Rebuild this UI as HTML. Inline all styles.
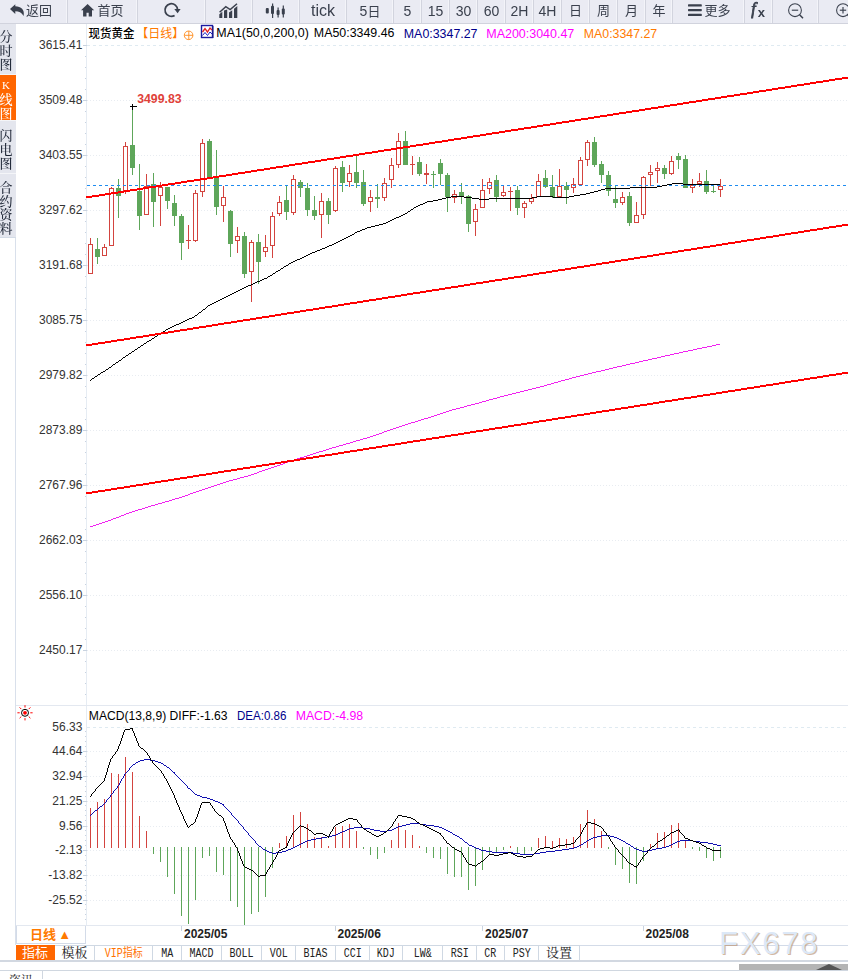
<!DOCTYPE html><html><head><meta charset="utf-8"><title>K</title><style>
html,body{margin:0;padding:0;background:#fff}
body{width:848px;height:979px;position:relative;overflow:hidden;font-family:"Liberation Sans","Noto Sans CJK SC",sans-serif}
#tb{will-change:transform;position:absolute;left:0;top:0;width:848px;height:23px;background:#eaebf3;border-bottom:1px solid #d1d3dd;overflow:hidden}
#tb .b{position:absolute;top:0;height:23px;border-left:1px solid #d2d4de;box-shadow:-1px 0 0 #f3f4f9;color:#3a404d;font-size:13px;line-height:22px;text-align:center;white-space:nowrap}
#tb .b:first-child{border-left:none;box-shadow:none}
#tb .n{font-size:14px}
#tb svg{position:absolute}
#sb{will-change:transform;position:absolute;left:0;top:24px;width:16px}
#sb div{width:16px;background:#e4e6ee;color:#1c2434;font-size:13px;line-height:14px;text-align:center;border-bottom:1px solid #f4f5f8;box-sizing:border-box;overflow:hidden;font-family:"Noto Serif CJK SC","Liberation Serif",serif;font-weight:500}
#sb div.on{background:#ff6600;color:#fff}
#sb span{display:block;width:15px;margin-left:-1.5px}
.tabs{position:absolute;left:16px;top:945px;height:16px;font-size:12px;line-height:17px;font-family:"Liberation Mono","Noto Serif CJK SC",monospace;color:#222}
.tabs div{position:absolute;top:0;height:16px;border:1px solid #cfd8e3;border-left:none;box-sizing:border-box;text-align:center;white-space:nowrap;background:#fff}
.tabs span{display:inline-block;transform:scaleX(.833);transform-origin:center}

</style></head><body>
<svg id="chart" width="848" height="979" viewBox="0 0 848 979" style="position:absolute;left:0;top:0">
<g shape-rendering="crispEdges" fill="none">
<line x1="15.5" y1="237" x2="15.5" y2="945" stroke="#d9e0eb"/>
<line x1="0" y1="237.5" x2="16" y2="237.5" stroke="#d3dbe6"/>
<line x1="86.5" y1="24" x2="86.5" y2="925" stroke="#e6ecf3"/>
<line x1="16" y1="705.5" x2="848" y2="705.5" stroke="#e3e8f0"/>
<line x1="16" y1="925.5" x2="848" y2="925.5" stroke="#e3e8f0"/>
<line x1="16" y1="945.5" x2="848" y2="945.5" stroke="#d3dbe8"/>
<line x1="87" y1="45.5" x2="848" y2="45.5" stroke="#dfeaf1" stroke-dasharray="3 3"/>
<line x1="87" y1="100.5" x2="848" y2="100.5" stroke="#e8ecf1" stroke-dasharray="1 2"/>
<line x1="87" y1="155.5" x2="848" y2="155.5" stroke="#e8ecf1" stroke-dasharray="1 2"/>
<line x1="87" y1="210.5" x2="848" y2="210.5" stroke="#e8ecf1" stroke-dasharray="1 2"/>
<line x1="87" y1="265.5" x2="848" y2="265.5" stroke="#e8ecf1" stroke-dasharray="1 2"/>
<line x1="87" y1="320.5" x2="848" y2="320.5" stroke="#e8ecf1" stroke-dasharray="1 2"/>
<line x1="87" y1="375.5" x2="848" y2="375.5" stroke="#e8ecf1" stroke-dasharray="1 2"/>
<line x1="87" y1="430.5" x2="848" y2="430.5" stroke="#e8ecf1" stroke-dasharray="1 2"/>
<line x1="87" y1="485.5" x2="848" y2="485.5" stroke="#e8ecf1" stroke-dasharray="1 2"/>
<line x1="87" y1="540.5" x2="848" y2="540.5" stroke="#e8ecf1" stroke-dasharray="1 2"/>
<line x1="87" y1="595.5" x2="848" y2="595.5" stroke="#e8ecf1" stroke-dasharray="1 2"/>
<line x1="87" y1="650.5" x2="848" y2="650.5" stroke="#e8ecf1" stroke-dasharray="1 2"/>
<line x1="83" y1="45.5" x2="87" y2="45.5" stroke="#c9d3e0"/>
<line x1="85" y1="56.5" x2="86" y2="56.5" stroke="#c8d2e0"/>
<line x1="85" y1="67.5" x2="86" y2="67.5" stroke="#c8d2e0"/>
<line x1="85" y1="78.5" x2="86" y2="78.5" stroke="#c8d2e0"/>
<line x1="85" y1="89.5" x2="86" y2="89.5" stroke="#c8d2e0"/>
<line x1="83" y1="100.5" x2="87" y2="100.5" stroke="#c9d3e0"/>
<line x1="85" y1="111.5" x2="86" y2="111.5" stroke="#c8d2e0"/>
<line x1="85" y1="122.5" x2="86" y2="122.5" stroke="#c8d2e0"/>
<line x1="85" y1="133.5" x2="86" y2="133.5" stroke="#c8d2e0"/>
<line x1="85" y1="144.5" x2="86" y2="144.5" stroke="#c8d2e0"/>
<line x1="83" y1="155.5" x2="87" y2="155.5" stroke="#c9d3e0"/>
<line x1="85" y1="166.5" x2="86" y2="166.5" stroke="#c8d2e0"/>
<line x1="85" y1="177.5" x2="86" y2="177.5" stroke="#c8d2e0"/>
<line x1="85" y1="188.5" x2="86" y2="188.5" stroke="#c8d2e0"/>
<line x1="85" y1="199.5" x2="86" y2="199.5" stroke="#c8d2e0"/>
<line x1="83" y1="210.5" x2="87" y2="210.5" stroke="#c9d3e0"/>
<line x1="85" y1="221.5" x2="86" y2="221.5" stroke="#c8d2e0"/>
<line x1="85" y1="232.5" x2="86" y2="232.5" stroke="#c8d2e0"/>
<line x1="85" y1="243.5" x2="86" y2="243.5" stroke="#c8d2e0"/>
<line x1="85" y1="254.5" x2="86" y2="254.5" stroke="#c8d2e0"/>
<line x1="83" y1="265.5" x2="87" y2="265.5" stroke="#c9d3e0"/>
<line x1="85" y1="276.5" x2="86" y2="276.5" stroke="#c8d2e0"/>
<line x1="85" y1="287.5" x2="86" y2="287.5" stroke="#c8d2e0"/>
<line x1="85" y1="298.5" x2="86" y2="298.5" stroke="#c8d2e0"/>
<line x1="85" y1="309.5" x2="86" y2="309.5" stroke="#c8d2e0"/>
<line x1="83" y1="320.5" x2="87" y2="320.5" stroke="#c9d3e0"/>
<line x1="85" y1="331.5" x2="86" y2="331.5" stroke="#c8d2e0"/>
<line x1="85" y1="342.5" x2="86" y2="342.5" stroke="#c8d2e0"/>
<line x1="85" y1="353.5" x2="86" y2="353.5" stroke="#c8d2e0"/>
<line x1="85" y1="364.5" x2="86" y2="364.5" stroke="#c8d2e0"/>
<line x1="83" y1="375.5" x2="87" y2="375.5" stroke="#c9d3e0"/>
<line x1="85" y1="386.5" x2="86" y2="386.5" stroke="#c8d2e0"/>
<line x1="85" y1="397.5" x2="86" y2="397.5" stroke="#c8d2e0"/>
<line x1="85" y1="408.5" x2="86" y2="408.5" stroke="#c8d2e0"/>
<line x1="85" y1="419.5" x2="86" y2="419.5" stroke="#c8d2e0"/>
<line x1="83" y1="430.5" x2="87" y2="430.5" stroke="#c9d3e0"/>
<line x1="85" y1="441.5" x2="86" y2="441.5" stroke="#c8d2e0"/>
<line x1="85" y1="452.5" x2="86" y2="452.5" stroke="#c8d2e0"/>
<line x1="85" y1="463.5" x2="86" y2="463.5" stroke="#c8d2e0"/>
<line x1="85" y1="474.5" x2="86" y2="474.5" stroke="#c8d2e0"/>
<line x1="83" y1="485.5" x2="87" y2="485.5" stroke="#c9d3e0"/>
<line x1="85" y1="496.5" x2="86" y2="496.5" stroke="#c8d2e0"/>
<line x1="85" y1="507.5" x2="86" y2="507.5" stroke="#c8d2e0"/>
<line x1="85" y1="518.5" x2="86" y2="518.5" stroke="#c8d2e0"/>
<line x1="85" y1="529.5" x2="86" y2="529.5" stroke="#c8d2e0"/>
<line x1="83" y1="540.5" x2="87" y2="540.5" stroke="#c9d3e0"/>
<line x1="85" y1="551.5" x2="86" y2="551.5" stroke="#c8d2e0"/>
<line x1="85" y1="562.5" x2="86" y2="562.5" stroke="#c8d2e0"/>
<line x1="85" y1="573.5" x2="86" y2="573.5" stroke="#c8d2e0"/>
<line x1="85" y1="584.5" x2="86" y2="584.5" stroke="#c8d2e0"/>
<line x1="83" y1="595.5" x2="87" y2="595.5" stroke="#c9d3e0"/>
<line x1="85" y1="606.5" x2="86" y2="606.5" stroke="#c8d2e0"/>
<line x1="85" y1="617.5" x2="86" y2="617.5" stroke="#c8d2e0"/>
<line x1="85" y1="628.5" x2="86" y2="628.5" stroke="#c8d2e0"/>
<line x1="85" y1="639.5" x2="86" y2="639.5" stroke="#c8d2e0"/>
<line x1="83" y1="650.5" x2="87" y2="650.5" stroke="#c9d3e0"/>
<line x1="85" y1="661.5" x2="86" y2="661.5" stroke="#c8d2e0"/>
<line x1="85" y1="672.5" x2="86" y2="672.5" stroke="#c8d2e0"/>
<line x1="85" y1="683.5" x2="86" y2="683.5" stroke="#c8d2e0"/>
<line x1="85" y1="694.5" x2="86" y2="694.5" stroke="#c8d2e0"/>
<line x1="87" y1="727.5" x2="848" y2="727.5" stroke="#dfeaf1" stroke-dasharray="3 3"/>
<line x1="87" y1="751.5" x2="848" y2="751.5" stroke="#e8ecf1" stroke-dasharray="1 2"/>
<line x1="87" y1="776.5" x2="848" y2="776.5" stroke="#e8ecf1" stroke-dasharray="1 2"/>
<line x1="87" y1="801.5" x2="848" y2="801.5" stroke="#e8ecf1" stroke-dasharray="1 2"/>
<line x1="87" y1="826.5" x2="848" y2="826.5" stroke="#e8ecf1" stroke-dasharray="1 2"/>
<line x1="87" y1="850.5" x2="848" y2="850.5" stroke="#e8ecf1" stroke-dasharray="1 2"/>
<line x1="87" y1="875.5" x2="848" y2="875.5" stroke="#e8ecf1" stroke-dasharray="1 2"/>
<line x1="87" y1="900.5" x2="848" y2="900.5" stroke="#e8ecf1" stroke-dasharray="1 2"/>
<line x1="83" y1="751.5" x2="87" y2="751.5" stroke="#c9d3e0"/>
<line x1="83" y1="776.5" x2="87" y2="776.5" stroke="#c9d3e0"/>
<line x1="83" y1="801.5" x2="87" y2="801.5" stroke="#c9d3e0"/>
<line x1="83" y1="826.5" x2="87" y2="826.5" stroke="#c9d3e0"/>
<line x1="83" y1="850.5" x2="87" y2="850.5" stroke="#c9d3e0"/>
<line x1="83" y1="875.5" x2="87" y2="875.5" stroke="#c9d3e0"/>
<line x1="83" y1="900.5" x2="87" y2="900.5" stroke="#c9d3e0"/>
<line x1="85" y1="731.5" x2="86" y2="731.5" stroke="#c8d2e0"/>
<line x1="85" y1="736.5" x2="86" y2="736.5" stroke="#c8d2e0"/>
<line x1="85" y1="741.5" x2="86" y2="741.5" stroke="#c8d2e0"/>
<line x1="85" y1="746.5" x2="86" y2="746.5" stroke="#c8d2e0"/>
<line x1="85" y1="756.5" x2="86" y2="756.5" stroke="#c8d2e0"/>
<line x1="85" y1="761.5" x2="86" y2="761.5" stroke="#c8d2e0"/>
<line x1="85" y1="766.5" x2="86" y2="766.5" stroke="#c8d2e0"/>
<line x1="85" y1="771.5" x2="86" y2="771.5" stroke="#c8d2e0"/>
<line x1="85" y1="781.5" x2="86" y2="781.5" stroke="#c8d2e0"/>
<line x1="85" y1="786.5" x2="86" y2="786.5" stroke="#c8d2e0"/>
<line x1="85" y1="791.5" x2="86" y2="791.5" stroke="#c8d2e0"/>
<line x1="85" y1="796.5" x2="86" y2="796.5" stroke="#c8d2e0"/>
<line x1="85" y1="805.5" x2="86" y2="805.5" stroke="#c8d2e0"/>
<line x1="85" y1="810.5" x2="86" y2="810.5" stroke="#c8d2e0"/>
<line x1="85" y1="815.5" x2="86" y2="815.5" stroke="#c8d2e0"/>
<line x1="85" y1="820.5" x2="86" y2="820.5" stroke="#c8d2e0"/>
<line x1="85" y1="830.5" x2="86" y2="830.5" stroke="#c8d2e0"/>
<line x1="85" y1="835.5" x2="86" y2="835.5" stroke="#c8d2e0"/>
<line x1="85" y1="840.5" x2="86" y2="840.5" stroke="#c8d2e0"/>
<line x1="85" y1="845.5" x2="86" y2="845.5" stroke="#c8d2e0"/>
<line x1="85" y1="855.5" x2="86" y2="855.5" stroke="#c8d2e0"/>
<line x1="85" y1="860.5" x2="86" y2="860.5" stroke="#c8d2e0"/>
<line x1="85" y1="865.5" x2="86" y2="865.5" stroke="#c8d2e0"/>
<line x1="85" y1="870.5" x2="86" y2="870.5" stroke="#c8d2e0"/>
<line x1="85" y1="880.5" x2="86" y2="880.5" stroke="#c8d2e0"/>
<line x1="85" y1="885.5" x2="86" y2="885.5" stroke="#c8d2e0"/>
<line x1="85" y1="890.5" x2="86" y2="890.5" stroke="#c8d2e0"/>
<line x1="85" y1="895.5" x2="86" y2="895.5" stroke="#c8d2e0"/>
<line x1="85" y1="904.5" x2="86" y2="904.5" stroke="#c8d2e0"/>
<line x1="85" y1="909.5" x2="86" y2="909.5" stroke="#c8d2e0"/>
<line x1="85" y1="914.5" x2="86" y2="914.5" stroke="#c8d2e0"/>
<line x1="85" y1="919.5" x2="86" y2="919.5" stroke="#c8d2e0"/>
<line x1="181.5" y1="926" x2="181.5" y2="931" stroke="#c9d3e0"/>
<line x1="335.5" y1="926" x2="335.5" y2="931" stroke="#c9d3e0"/>
<line x1="482.5" y1="926" x2="482.5" y2="931" stroke="#c9d3e0"/>
<line x1="643.5" y1="926" x2="643.5" y2="931" stroke="#c9d3e0"/>
</g>
<g shape-rendering="crispEdges">
<rect x="90" y="238" width="1" height="6" fill="#d3443f"/>
<rect x="88.5" y="244.5" width="4" height="29" fill="#fff" stroke="#d3443f"/>
<rect x="97" y="238" width="1" height="26" fill="#5ea65a"/>
<rect x="95" y="249" width="5" height="8" fill="#5ea65a"/>
<rect x="104" y="244" width="1" height="3" fill="#d3443f"/>
<rect x="102.5" y="247.5" width="4" height="8" fill="#fff" stroke="#d3443f"/>
<rect x="111" y="187" width="1" height="1" fill="#d3443f"/>
<rect x="109.5" y="188.5" width="4" height="57" fill="#fff" stroke="#d3443f"/>
<rect x="118" y="179" width="1" height="39" fill="#5ea65a"/>
<rect x="116" y="188" width="5" height="8" fill="#5ea65a"/>
<rect x="125" y="142" width="1" height="4" fill="#d3443f"/>
<rect x="125" y="191" width="1" height="3" fill="#d3443f"/>
<rect x="123.5" y="146.5" width="4" height="44" fill="#fff" stroke="#d3443f"/>
<rect x="132" y="106" width="1" height="69" fill="#5ea65a"/>
<rect x="130" y="145" width="5" height="23" fill="#5ea65a"/>
<rect x="139" y="164" width="1" height="66" fill="#5ea65a"/>
<rect x="137" y="191" width="5" height="25" fill="#5ea65a"/>
<rect x="146" y="174" width="1" height="12" fill="#d3443f"/>
<rect x="144.5" y="186.5" width="4" height="28" fill="#fff" stroke="#d3443f"/>
<rect x="153" y="173" width="1" height="54" fill="#5ea65a"/>
<rect x="151" y="184" width="5" height="18" fill="#5ea65a"/>
<rect x="160" y="182" width="1" height="5" fill="#d3443f"/>
<rect x="160" y="196" width="1" height="30" fill="#d3443f"/>
<rect x="158.5" y="187.5" width="4" height="8" fill="#fff" stroke="#d3443f"/>
<rect x="167" y="187" width="1" height="22" fill="#5ea65a"/>
<rect x="165" y="187" width="5" height="14" fill="#5ea65a"/>
<rect x="174" y="195" width="1" height="31" fill="#5ea65a"/>
<rect x="172" y="203" width="5" height="13" fill="#5ea65a"/>
<rect x="181" y="214" width="1" height="46" fill="#5ea65a"/>
<rect x="179" y="216" width="5" height="27" fill="#5ea65a"/>
<rect x="188" y="225" width="1" height="15" fill="#d3443f"/>
<rect x="188" y="241" width="1" height="8" fill="#d3443f"/>
<rect x="186" y="240" width="5" height="1" fill="#d3443f"/>
<rect x="195" y="190" width="1" height="3" fill="#d3443f"/>
<rect x="195" y="241" width="1" height="1" fill="#d3443f"/>
<rect x="193.5" y="193.5" width="4" height="47" fill="#fff" stroke="#d3443f"/>
<rect x="202" y="139" width="1" height="4" fill="#d3443f"/>
<rect x="202" y="192" width="1" height="5" fill="#d3443f"/>
<rect x="200.5" y="143.5" width="4" height="48" fill="#fff" stroke="#d3443f"/>
<rect x="209" y="139" width="1" height="39" fill="#5ea65a"/>
<rect x="207" y="141" width="5" height="37" fill="#5ea65a"/>
<rect x="216" y="150" width="1" height="65" fill="#5ea65a"/>
<rect x="214" y="178" width="5" height="29" fill="#5ea65a"/>
<rect x="223" y="186" width="1" height="11" fill="#d3443f"/>
<rect x="223" y="206" width="1" height="16" fill="#d3443f"/>
<rect x="221.5" y="197.5" width="4" height="8" fill="#fff" stroke="#d3443f"/>
<rect x="230" y="210" width="1" height="47" fill="#5ea65a"/>
<rect x="228" y="211" width="5" height="33" fill="#5ea65a"/>
<rect x="237" y="227" width="1" height="9" fill="#d3443f"/>
<rect x="237" y="241" width="1" height="12" fill="#d3443f"/>
<rect x="235.5" y="236.5" width="4" height="4" fill="#fff" stroke="#d3443f"/>
<rect x="244" y="232" width="1" height="46" fill="#5ea65a"/>
<rect x="242" y="236" width="5" height="38" fill="#5ea65a"/>
<rect x="251" y="240" width="1" height="2" fill="#d3443f"/>
<rect x="251" y="272" width="1" height="30" fill="#d3443f"/>
<rect x="249.5" y="242.5" width="4" height="29" fill="#fff" stroke="#d3443f"/>
<rect x="258" y="234" width="1" height="50" fill="#5ea65a"/>
<rect x="256" y="242" width="5" height="20" fill="#5ea65a"/>
<rect x="265" y="235" width="1" height="12" fill="#d3443f"/>
<rect x="265" y="252" width="1" height="5" fill="#d3443f"/>
<rect x="263.5" y="247.5" width="4" height="4" fill="#fff" stroke="#d3443f"/>
<rect x="272" y="212" width="1" height="4" fill="#d3443f"/>
<rect x="272" y="246" width="1" height="12" fill="#d3443f"/>
<rect x="270.5" y="216.5" width="4" height="29" fill="#fff" stroke="#d3443f"/>
<rect x="279" y="196" width="1" height="6" fill="#d3443f"/>
<rect x="279" y="214" width="1" height="2" fill="#d3443f"/>
<rect x="277.5" y="202.5" width="4" height="11" fill="#fff" stroke="#d3443f"/>
<rect x="286" y="186" width="1" height="34" fill="#5ea65a"/>
<rect x="284" y="200" width="5" height="12" fill="#5ea65a"/>
<rect x="293" y="175" width="1" height="4" fill="#d3443f"/>
<rect x="293" y="213" width="1" height="2" fill="#d3443f"/>
<rect x="291.5" y="179.5" width="4" height="33" fill="#fff" stroke="#d3443f"/>
<rect x="300" y="180" width="1" height="17" fill="#5ea65a"/>
<rect x="298" y="182" width="5" height="6" fill="#5ea65a"/>
<rect x="307" y="183" width="1" height="33" fill="#5ea65a"/>
<rect x="305" y="188" width="5" height="22" fill="#5ea65a"/>
<rect x="314" y="196" width="1" height="24" fill="#5ea65a"/>
<rect x="312" y="210" width="5" height="6" fill="#5ea65a"/>
<rect x="321" y="193" width="1" height="8" fill="#d3443f"/>
<rect x="321" y="215" width="1" height="23" fill="#d3443f"/>
<rect x="319.5" y="201.5" width="4" height="13" fill="#fff" stroke="#d3443f"/>
<rect x="328" y="198" width="1" height="26" fill="#5ea65a"/>
<rect x="326" y="201" width="5" height="14" fill="#5ea65a"/>
<rect x="335" y="166" width="1" height="2" fill="#d3443f"/>
<rect x="335" y="211" width="1" height="1" fill="#d3443f"/>
<rect x="333.5" y="168.5" width="4" height="42" fill="#fff" stroke="#d3443f"/>
<rect x="342" y="161" width="1" height="31" fill="#5ea65a"/>
<rect x="340" y="167" width="5" height="16" fill="#5ea65a"/>
<rect x="349" y="165" width="1" height="8" fill="#d3443f"/>
<rect x="349" y="182" width="1" height="5" fill="#d3443f"/>
<rect x="347.5" y="173.5" width="4" height="8" fill="#fff" stroke="#d3443f"/>
<rect x="356" y="156" width="1" height="32" fill="#5ea65a"/>
<rect x="354" y="172" width="5" height="11" fill="#5ea65a"/>
<rect x="363" y="170" width="1" height="36" fill="#5ea65a"/>
<rect x="361" y="182" width="5" height="22" fill="#5ea65a"/>
<rect x="370" y="190" width="1" height="7" fill="#d3443f"/>
<rect x="370" y="202" width="1" height="10" fill="#d3443f"/>
<rect x="368.5" y="197.5" width="4" height="4" fill="#fff" stroke="#d3443f"/>
<rect x="377" y="184" width="1" height="24" fill="#5ea65a"/>
<rect x="375" y="197" width="5" height="2" fill="#5ea65a"/>
<rect x="384" y="178" width="1" height="5" fill="#d3443f"/>
<rect x="384" y="198" width="1" height="3" fill="#d3443f"/>
<rect x="382.5" y="183.5" width="4" height="14" fill="#fff" stroke="#d3443f"/>
<rect x="391" y="158" width="1" height="7" fill="#d3443f"/>
<rect x="391" y="180" width="1" height="8" fill="#d3443f"/>
<rect x="389.5" y="165.5" width="4" height="14" fill="#fff" stroke="#d3443f"/>
<rect x="398" y="133" width="1" height="8" fill="#d3443f"/>
<rect x="398" y="165" width="1" height="3" fill="#d3443f"/>
<rect x="396.5" y="141.5" width="4" height="23" fill="#fff" stroke="#d3443f"/>
<rect x="405" y="131" width="1" height="34" fill="#5ea65a"/>
<rect x="403" y="141" width="5" height="24" fill="#5ea65a"/>
<rect x="412" y="156" width="1" height="8" fill="#d3443f"/>
<rect x="412" y="165" width="1" height="10" fill="#d3443f"/>
<rect x="410" y="164" width="5" height="1" fill="#d3443f"/>
<rect x="419" y="157" width="1" height="19" fill="#5ea65a"/>
<rect x="417" y="162" width="5" height="12" fill="#5ea65a"/>
<rect x="426" y="164" width="1" height="9" fill="#d3443f"/>
<rect x="426" y="175" width="1" height="9" fill="#d3443f"/>
<rect x="424" y="173" width="5" height="2" fill="#d3443f"/>
<rect x="433" y="171" width="1" height="17" fill="#5ea65a"/>
<rect x="431" y="174" width="5" height="1" fill="#5ea65a"/>
<rect x="440" y="159" width="1" height="26" fill="#5ea65a"/>
<rect x="438" y="163" width="5" height="11" fill="#5ea65a"/>
<rect x="447" y="173" width="1" height="39" fill="#5ea65a"/>
<rect x="445" y="175" width="5" height="22" fill="#5ea65a"/>
<rect x="454" y="190" width="1" height="4" fill="#d3443f"/>
<rect x="454" y="198" width="1" height="5" fill="#d3443f"/>
<rect x="452.5" y="194.5" width="4" height="3" fill="#fff" stroke="#d3443f"/>
<rect x="461" y="183" width="1" height="21" fill="#5ea65a"/>
<rect x="459" y="192" width="5" height="5" fill="#5ea65a"/>
<rect x="468" y="195" width="1" height="37" fill="#5ea65a"/>
<rect x="466" y="196" width="5" height="28" fill="#5ea65a"/>
<rect x="475" y="204" width="1" height="5" fill="#d3443f"/>
<rect x="475" y="222" width="1" height="14" fill="#d3443f"/>
<rect x="473.5" y="209.5" width="4" height="12" fill="#fff" stroke="#d3443f"/>
<rect x="482" y="179" width="1" height="11" fill="#d3443f"/>
<rect x="480.5" y="190.5" width="4" height="17" fill="#fff" stroke="#d3443f"/>
<rect x="489" y="178" width="1" height="4" fill="#d3443f"/>
<rect x="489" y="189" width="1" height="5" fill="#d3443f"/>
<rect x="487.5" y="182.5" width="4" height="6" fill="#fff" stroke="#d3443f"/>
<rect x="496" y="175" width="1" height="27" fill="#5ea65a"/>
<rect x="494" y="180" width="5" height="17" fill="#5ea65a"/>
<rect x="503" y="186" width="1" height="6" fill="#d3443f"/>
<rect x="503" y="196" width="1" height="1" fill="#d3443f"/>
<rect x="501.5" y="192.5" width="4" height="3" fill="#fff" stroke="#d3443f"/>
<rect x="510" y="187" width="1" height="4" fill="#d3443f"/>
<rect x="510" y="192" width="1" height="19" fill="#d3443f"/>
<rect x="508" y="191" width="5" height="1" fill="#d3443f"/>
<rect x="517" y="186" width="1" height="29" fill="#5ea65a"/>
<rect x="515" y="190" width="5" height="18" fill="#5ea65a"/>
<rect x="524" y="201" width="1" height="2" fill="#d3443f"/>
<rect x="524" y="208" width="1" height="10" fill="#d3443f"/>
<rect x="522.5" y="203.5" width="4" height="4" fill="#fff" stroke="#d3443f"/>
<rect x="531" y="194" width="1" height="4" fill="#d3443f"/>
<rect x="531" y="202" width="1" height="2" fill="#d3443f"/>
<rect x="529.5" y="198.5" width="4" height="3" fill="#fff" stroke="#d3443f"/>
<rect x="538" y="174" width="1" height="7" fill="#d3443f"/>
<rect x="536.5" y="181.5" width="4" height="15" fill="#fff" stroke="#d3443f"/>
<rect x="545" y="170" width="1" height="18" fill="#5ea65a"/>
<rect x="543" y="178" width="5" height="9" fill="#5ea65a"/>
<rect x="552" y="175" width="1" height="23" fill="#5ea65a"/>
<rect x="550" y="187" width="5" height="10" fill="#5ea65a"/>
<rect x="559" y="169" width="1" height="17" fill="#d3443f"/>
<rect x="559" y="197" width="1" height="1" fill="#d3443f"/>
<rect x="557.5" y="186.5" width="4" height="10" fill="#fff" stroke="#d3443f"/>
<rect x="566" y="182" width="1" height="22" fill="#5ea65a"/>
<rect x="564" y="186" width="5" height="4" fill="#5ea65a"/>
<rect x="573" y="178" width="1" height="6" fill="#d3443f"/>
<rect x="573" y="188" width="1" height="5" fill="#d3443f"/>
<rect x="571.5" y="184.5" width="4" height="3" fill="#fff" stroke="#d3443f"/>
<rect x="580" y="157" width="1" height="3" fill="#d3443f"/>
<rect x="578.5" y="160.5" width="4" height="24" fill="#fff" stroke="#d3443f"/>
<rect x="587" y="140" width="1" height="2" fill="#d3443f"/>
<rect x="587" y="160" width="1" height="6" fill="#d3443f"/>
<rect x="585.5" y="142.5" width="4" height="17" fill="#fff" stroke="#d3443f"/>
<rect x="594" y="137" width="1" height="30" fill="#5ea65a"/>
<rect x="592" y="142" width="5" height="23" fill="#5ea65a"/>
<rect x="601" y="161" width="1" height="22" fill="#5ea65a"/>
<rect x="599" y="164" width="5" height="11" fill="#5ea65a"/>
<rect x="608" y="171" width="1" height="25" fill="#5ea65a"/>
<rect x="606" y="175" width="5" height="16" fill="#5ea65a"/>
<rect x="615" y="186" width="1" height="22" fill="#5ea65a"/>
<rect x="613" y="199" width="5" height="4" fill="#5ea65a"/>
<rect x="622" y="192" width="1" height="5" fill="#d3443f"/>
<rect x="622" y="203" width="1" height="2" fill="#d3443f"/>
<rect x="620.5" y="197.5" width="4" height="5" fill="#fff" stroke="#d3443f"/>
<rect x="629" y="192" width="1" height="34" fill="#5ea65a"/>
<rect x="627" y="196" width="5" height="27" fill="#5ea65a"/>
<rect x="636" y="202" width="1" height="13" fill="#d3443f"/>
<rect x="634.5" y="215.5" width="4" height="7" fill="#fff" stroke="#d3443f"/>
<rect x="643" y="176" width="1" height="1" fill="#d3443f"/>
<rect x="643" y="215" width="1" height="4" fill="#d3443f"/>
<rect x="641.5" y="177.5" width="4" height="37" fill="#fff" stroke="#d3443f"/>
<rect x="650" y="165" width="1" height="7" fill="#d3443f"/>
<rect x="650" y="175" width="1" height="11" fill="#d3443f"/>
<rect x="648.5" y="172.5" width="4" height="2" fill="#fff" stroke="#d3443f"/>
<rect x="657" y="162" width="1" height="6" fill="#d3443f"/>
<rect x="657" y="171" width="1" height="12" fill="#d3443f"/>
<rect x="655.5" y="168.5" width="4" height="2" fill="#fff" stroke="#d3443f"/>
<rect x="664" y="165" width="1" height="14" fill="#5ea65a"/>
<rect x="662" y="168" width="5" height="6" fill="#5ea65a"/>
<rect x="671" y="156" width="1" height="5" fill="#d3443f"/>
<rect x="671" y="174" width="1" height="1" fill="#d3443f"/>
<rect x="669.5" y="161.5" width="4" height="12" fill="#fff" stroke="#d3443f"/>
<rect x="678" y="153" width="1" height="16" fill="#5ea65a"/>
<rect x="676" y="156" width="5" height="4" fill="#5ea65a"/>
<rect x="685" y="155" width="1" height="33" fill="#5ea65a"/>
<rect x="683" y="159" width="5" height="29" fill="#5ea65a"/>
<rect x="692" y="179" width="1" height="6" fill="#d3443f"/>
<rect x="692" y="188" width="1" height="5" fill="#d3443f"/>
<rect x="690.5" y="185.5" width="4" height="2" fill="#fff" stroke="#d3443f"/>
<rect x="699" y="173" width="1" height="8" fill="#d3443f"/>
<rect x="699" y="184" width="1" height="3" fill="#d3443f"/>
<rect x="697.5" y="181.5" width="4" height="2" fill="#fff" stroke="#d3443f"/>
<rect x="706" y="170" width="1" height="24" fill="#5ea65a"/>
<rect x="704" y="181" width="5" height="11" fill="#5ea65a"/>
<rect x="713" y="186" width="1" height="7" fill="#5ea65a"/>
<rect x="711" y="191" width="5" height="1" fill="#5ea65a"/>
<rect x="720" y="179" width="1" height="7" fill="#d3443f"/>
<rect x="720" y="190" width="1" height="7" fill="#d3443f"/>
<rect x="718.5" y="186.5" width="4" height="3" fill="#fff" stroke="#d3443f"/>
</g>
<line x1="87" y1="185.5" x2="848" y2="185.5" stroke="#1e8cf0" stroke-dasharray="3 3" shape-rendering="crispEdges"/>
<path d="M90 380h1v1h-1zM91 379h1v1h-1zM92 378h1v1h-1zM93 378h1v1h-1zM94 377h1v1h-1zM95 376h1v1h-1zM96 376h1v1h-1zM97 375h1v1h-1zM98 374h1v1h-1zM99 374h1v1h-1zM100 373h1v1h-1zM101 372h1v1h-1zM102 372h1v1h-1zM103 371h1v1h-1zM104 371h1v1h-1zM105 370h1v1h-1zM106 369h1v1h-1zM107 369h1v1h-1zM108 368h1v1h-1zM109 367h1v1h-1zM110 367h1v1h-1zM111 366h1v1h-1zM112 365h1v1h-1zM113 364h1v1h-1zM114 364h1v1h-1zM115 363h1v1h-1zM116 362h1v1h-1zM117 362h1v1h-1zM118 361h1v1h-1zM119 360h1v1h-1zM120 360h1v1h-1zM121 359h1v1h-1zM122 358h1v1h-1zM123 357h1v1h-1zM124 357h1v1h-1zM125 356h1v1h-1zM126 355h1v1h-1zM127 355h1v1h-1zM128 354h1v1h-1zM129 353h1v1h-1zM130 353h1v1h-1zM131 352h1v1h-1zM132 351h1v1h-1zM133 351h1v1h-1zM134 350h1v1h-1zM135 349h1v1h-1zM136 349h1v1h-1zM137 348h1v1h-1zM138 347h1v1h-1zM139 347h1v1h-1zM140 346h1v1h-1zM141 345h1v1h-1zM142 345h1v1h-1zM143 344h1v1h-1zM144 343h1v1h-1zM145 343h1v1h-1zM146 342h1v1h-1zM147 341h1v1h-1zM148 341h1v1h-1zM149 340h1v1h-1zM150 340h1v1h-1zM151 339h1v1h-1zM152 338h1v1h-1zM153 338h1v1h-1zM154 337h1v1h-1zM155 336h1v1h-1zM156 336h1v1h-1zM157 335h1v1h-1zM158 334h1v1h-1zM159 334h1v1h-1zM160 333h1v1h-1zM161 332h1v1h-1zM162 332h1v1h-1zM163 331h1v1h-1zM164 331h1v1h-1zM165 330h1v1h-1zM166 329h1v1h-1zM167 329h1v1h-1zM168 328h1v1h-1zM169 328h1v1h-1zM170 327h1v1h-1zM171 327h1v1h-1zM172 326h1v1h-1zM173 326h1v1h-1zM174 325h1v1h-1zM175 325h1v1h-1zM176 324h1v1h-1zM177 324h1v1h-1zM178 324h1v1h-1zM179 323h1v1h-1zM180 323h1v1h-1zM181 322h1v1h-1zM182 322h1v1h-1zM183 321h1v1h-1zM184 321h1v1h-1zM185 320h1v1h-1zM186 320h1v1h-1zM187 319h1v1h-1zM188 319h1v1h-1zM189 318h1v1h-1zM190 318h1v1h-1zM191 318h1v1h-1zM192 317h1v1h-1zM193 317h1v1h-1zM194 316h1v1h-1zM195 315h1v1h-1zM196 315h1v1h-1zM197 314h1v1h-1zM198 313h1v1h-1zM199 312h1v1h-1zM200 312h1v1h-1zM201 311h1v1h-1zM202 310h1v1h-1zM203 309h1v1h-1zM204 309h1v1h-1zM205 308h1v1h-1zM206 307h1v1h-1zM207 306h1v1h-1zM208 305h1v1h-1zM209 305h1v1h-1zM210 304h1v1h-1zM211 304h1v1h-1zM212 303h1v1h-1zM213 303h1v1h-1zM214 302h1v1h-1zM215 302h1v1h-1zM216 301h1v1h-1zM217 301h1v1h-1zM218 300h1v1h-1zM219 300h1v1h-1zM220 299h1v1h-1zM221 299h1v1h-1zM222 298h1v1h-1zM223 298h1v1h-1zM224 297h1v1h-1zM225 297h1v1h-1zM226 296h1v1h-1zM227 296h1v1h-1zM228 295h1v1h-1zM229 295h1v1h-1zM230 294h1v1h-1zM231 294h1v1h-1zM232 293h1v1h-1zM233 293h1v1h-1zM234 292h1v1h-1zM235 292h1v1h-1zM236 291h1v1h-1zM237 291h1v1h-1zM238 290h1v1h-1zM239 290h1v1h-1zM240 289h1v1h-1zM241 289h1v1h-1zM242 288h1v1h-1zM243 288h1v1h-1zM244 287h1v1h-1zM245 287h1v1h-1zM246 286h1v1h-1zM247 286h1v1h-1zM248 285h1v1h-1zM249 285h1v1h-1zM250 285h1v1h-1zM251 284h1v1h-1zM252 284h1v1h-1zM253 283h1v1h-1zM254 283h1v1h-1zM255 282h1v1h-1zM256 282h1v1h-1zM257 281h1v1h-1zM258 281h1v1h-1zM259 281h1v1h-1zM260 280h1v1h-1zM261 280h1v1h-1zM262 279h1v1h-1zM263 279h1v1h-1zM264 278h1v1h-1zM265 278h1v1h-1zM266 278h1v1h-1zM267 277h1v1h-1zM268 276h1v1h-1zM269 276h1v1h-1zM270 275h1v1h-1zM271 275h1v1h-1zM272 274h1v1h-1zM273 273h1v1h-1zM274 273h1v1h-1zM275 272h1v1h-1zM276 271h1v1h-1zM277 271h1v1h-1zM278 270h1v1h-1zM279 270h1v1h-1zM280 269h1v1h-1zM281 268h1v1h-1zM282 268h1v1h-1zM283 267h1v1h-1zM284 266h1v1h-1zM285 266h1v1h-1zM286 265h1v1h-1zM287 265h1v1h-1zM288 264h1v1h-1zM289 263h1v1h-1zM290 263h1v1h-1zM291 262h1v1h-1zM292 262h1v1h-1zM293 261h1v1h-1zM294 261h1v1h-1zM295 260h1v1h-1zM296 260h1v1h-1zM297 259h1v1h-1zM298 259h1v1h-1zM299 259h1v1h-1zM300 258h1v1h-1zM301 258h1v1h-1zM302 257h1v1h-1zM303 257h1v1h-1zM304 256h1v1h-1zM305 256h1v1h-1zM306 255h1v1h-1zM307 255h1v1h-1zM308 254h1v1h-1zM309 254h1v1h-1zM310 253h1v1h-1zM311 253h1v1h-1zM312 252h1v1h-1zM313 252h1v1h-1zM314 252h1v1h-1zM315 251h1v1h-1zM316 251h1v1h-1zM317 250h1v1h-1zM318 250h1v1h-1zM319 250h1v1h-1zM320 249h1v1h-1zM321 249h1v1h-1zM322 248h1v1h-1zM323 248h1v1h-1zM324 248h1v1h-1zM325 247h1v1h-1zM326 247h1v1h-1zM327 246h1v1h-1zM328 246h1v1h-1zM329 245h1v1h-1zM330 245h1v1h-1zM331 245h1v1h-1zM332 244h1v1h-1zM333 244h1v1h-1zM334 243h1v1h-1zM335 243h1v1h-1zM336 242h1v1h-1zM337 242h1v1h-1zM338 241h1v1h-1zM339 241h1v1h-1zM340 240h1v1h-1zM341 240h1v1h-1zM342 239h1v1h-1zM343 239h1v1h-1zM344 238h1v1h-1zM345 238h1v1h-1zM346 237h1v1h-1zM347 237h1v1h-1zM348 236h1v1h-1zM349 236h1v1h-1zM350 235h1v1h-1zM351 235h1v1h-1zM352 234h1v1h-1zM353 234h1v1h-1zM354 233h1v1h-1zM355 232h1v1h-1zM356 232h1v1h-1zM357 231h1v1h-1zM358 231h1v1h-1zM359 231h1v1h-1zM360 230h1v1h-1zM361 230h1v1h-1zM362 229h1v1h-1zM363 229h1v1h-1zM364 229h1v1h-1zM365 228h1v1h-1zM366 228h1v1h-1zM367 227h1v1h-1zM368 227h1v1h-1zM369 227h1v1h-1zM370 227h1v1h-1zM371 226h1v1h-1zM372 226h1v1h-1zM373 226h1v1h-1zM374 226h1v1h-1zM375 225h1v1h-1zM376 225h1v1h-1zM377 225h1v1h-1zM378 225h1v1h-1zM379 224h1v1h-1zM380 224h1v1h-1zM381 224h1v1h-1zM382 224h1v1h-1zM383 223h1v1h-1zM384 223h1v1h-1zM385 223h1v1h-1zM386 222h1v1h-1zM387 222h1v1h-1zM388 221h1v1h-1zM389 221h1v1h-1zM390 220h1v1h-1zM391 220h1v1h-1zM392 219h1v1h-1zM393 219h1v1h-1zM394 218h1v1h-1zM395 218h1v1h-1zM396 217h1v1h-1zM397 217h1v1h-1zM398 217h1v1h-1zM399 216h1v1h-1zM400 216h1v1h-1zM401 215h1v1h-1zM402 215h1v1h-1zM403 214h1v1h-1zM404 214h1v1h-1zM405 213h1v1h-1zM406 213h1v1h-1zM407 212h1v1h-1zM408 211h1v1h-1zM409 211h1v1h-1zM410 210h1v1h-1zM411 209h1v1h-1zM412 209h1v1h-1zM413 208h1v1h-1zM414 207h1v1h-1zM415 207h1v1h-1zM416 206h1v1h-1zM417 206h1v1h-1zM418 205h1v1h-1zM419 205h1v1h-1zM420 204h1v1h-1zM421 204h1v1h-1zM422 204h1v1h-1zM423 203h1v1h-1zM424 203h1v1h-1zM425 202h1v1h-1zM426 202h1v1h-1zM427 201h1v1h-1zM428 201h1v1h-1zM429 201h1v1h-1zM430 201h1v1h-1zM431 201h1v1h-1zM432 201h1v1h-1zM433 200h1v1h-1zM434 200h1v1h-1zM435 200h1v1h-1zM436 200h1v1h-1zM437 200h1v1h-1zM438 199h1v1h-1zM439 199h1v1h-1zM440 199h1v1h-1zM441 199h1v1h-1zM442 198h1v1h-1zM443 198h1v1h-1zM444 198h1v1h-1zM445 198h1v1h-1zM446 197h1v1h-1zM447 197h1v1h-1zM448 197h1v1h-1zM449 197h1v1h-1zM450 197h1v1h-1zM451 196h1v1h-1zM452 196h1v1h-1zM453 196h1v1h-1zM454 196h1v1h-1zM455 196h1v1h-1zM456 196h1v1h-1zM457 196h1v1h-1zM458 196h1v1h-1zM459 196h1v1h-1zM460 196h1v1h-1zM461 196h1v1h-1zM462 196h1v1h-1zM463 196h1v1h-1zM464 197h1v1h-1zM465 197h1v1h-1zM466 197h1v1h-1zM467 197h1v1h-1zM468 197h1v1h-1zM469 197h1v1h-1zM470 197h1v1h-1zM471 197h1v1h-1zM472 198h1v1h-1zM473 198h1v1h-1zM474 198h1v1h-1zM475 198h1v1h-1zM476 198h1v1h-1zM477 198h1v1h-1zM478 198h1v1h-1zM479 199h1v1h-1zM480 199h1v1h-1zM481 199h1v1h-1zM482 199h1v1h-1zM483 199h1v1h-1zM484 199h1v1h-1zM485 199h1v1h-1zM486 199h1v1h-1zM487 199h1v1h-1zM488 199h1v1h-1zM489 198h1v1h-1zM490 198h1v1h-1zM491 198h1v1h-1zM492 198h1v1h-1zM493 198h1v1h-1zM494 198h1v1h-1zM495 198h1v1h-1zM496 198h1v1h-1zM497 198h1v1h-1zM498 198h1v1h-1zM499 198h1v1h-1zM500 198h1v1h-1zM501 198h1v1h-1zM502 198h1v1h-1zM503 198h1v1h-1zM504 198h1v1h-1zM505 198h1v1h-1zM506 198h1v1h-1zM507 198h1v1h-1zM508 198h1v1h-1zM509 198h1v1h-1zM510 198h1v1h-1zM511 198h1v1h-1zM512 198h1v1h-1zM513 198h1v1h-1zM514 198h1v1h-1zM515 198h1v1h-1zM516 198h1v1h-1zM517 198h1v1h-1zM518 198h1v1h-1zM519 198h1v1h-1zM520 198h1v1h-1zM521 198h1v1h-1zM522 198h1v1h-1zM523 198h1v1h-1zM524 198h1v1h-1zM525 198h1v1h-1zM526 198h1v1h-1zM527 198h1v1h-1zM528 198h1v1h-1zM529 198h1v1h-1zM530 198h1v1h-1zM531 198h1v1h-1zM532 197h1v1h-1zM533 197h1v1h-1zM534 197h1v1h-1zM535 197h1v1h-1zM536 197h1v1h-1zM537 196h1v1h-1zM538 196h1v1h-1zM539 196h1v1h-1zM540 196h1v1h-1zM541 196h1v1h-1zM542 196h1v1h-1zM543 196h1v1h-1zM544 196h1v1h-1zM545 196h1v1h-1zM546 196h1v1h-1zM547 196h1v1h-1zM548 196h1v1h-1zM549 196h1v1h-1zM550 196h1v1h-1zM551 196h1v1h-1zM552 196h1v1h-1zM553 197h1v1h-1zM554 197h1v1h-1zM555 197h1v1h-1zM556 197h1v1h-1zM557 197h1v1h-1zM558 197h1v1h-1zM559 197h1v1h-1zM560 197h1v1h-1zM561 197h1v1h-1zM562 197h1v1h-1zM563 197h1v1h-1zM564 197h1v1h-1zM565 197h1v1h-1zM566 197h1v1h-1zM567 197h1v1h-1zM568 197h1v1h-1zM569 196h1v1h-1zM570 196h1v1h-1zM571 196h1v1h-1zM572 196h1v1h-1zM573 196h1v1h-1zM574 195h1v1h-1zM575 195h1v1h-1zM576 195h1v1h-1zM577 195h1v1h-1zM578 195h1v1h-1zM579 195h1v1h-1zM580 194h1v1h-1zM581 194h1v1h-1zM582 194h1v1h-1zM583 194h1v1h-1zM584 194h1v1h-1zM585 194h1v1h-1zM586 193h1v1h-1zM587 193h1v1h-1zM588 193h1v1h-1zM589 193h1v1h-1zM590 192h1v1h-1zM591 192h1v1h-1zM592 192h1v1h-1zM593 192h1v1h-1zM594 191h1v1h-1zM595 191h1v1h-1zM596 191h1v1h-1zM597 191h1v1h-1zM598 190h1v1h-1zM599 190h1v1h-1zM600 190h1v1h-1zM601 189h1v1h-1zM602 189h1v1h-1zM603 189h1v1h-1zM604 189h1v1h-1zM605 188h1v1h-1zM606 188h1v1h-1zM607 188h1v1h-1zM608 188h1v1h-1zM609 188h1v1h-1zM610 188h1v1h-1zM611 188h1v1h-1zM612 188h1v1h-1zM613 188h1v1h-1zM614 188h1v1h-1zM615 188h1v1h-1zM616 188h1v1h-1zM617 188h1v1h-1zM618 188h1v1h-1zM619 188h1v1h-1zM620 188h1v1h-1zM621 188h1v1h-1zM622 188h1v1h-1zM623 188h1v1h-1zM624 188h1v1h-1zM625 188h1v1h-1zM626 188h1v1h-1zM627 188h1v1h-1zM628 188h1v1h-1zM629 188h1v1h-1zM630 187h1v1h-1zM631 187h1v1h-1zM632 187h1v1h-1zM633 187h1v1h-1zM634 187h1v1h-1zM635 187h1v1h-1zM636 187h1v1h-1zM637 187h1v1h-1zM638 187h1v1h-1zM639 187h1v1h-1zM640 187h1v1h-1zM641 187h1v1h-1zM642 187h1v1h-1zM643 187h1v1h-1zM644 187h1v1h-1zM645 187h1v1h-1zM646 187h1v1h-1zM647 187h1v1h-1zM648 187h1v1h-1zM649 187h1v1h-1zM650 187h1v1h-1zM651 187h1v1h-1zM652 187h1v1h-1zM653 187h1v1h-1zM654 187h1v1h-1zM655 187h1v1h-1zM656 187h1v1h-1zM657 186h1v1h-1zM658 186h1v1h-1zM659 186h1v1h-1zM660 186h1v1h-1zM661 186h1v1h-1zM662 185h1v1h-1zM663 185h1v1h-1zM664 185h1v1h-1zM665 185h1v1h-1zM666 185h1v1h-1zM667 184h1v1h-1zM668 184h1v1h-1zM669 184h1v1h-1zM670 184h1v1h-1zM671 184h1v1h-1zM672 183h1v1h-1zM673 183h1v1h-1zM674 183h1v1h-1zM675 183h1v1h-1zM676 183h1v1h-1zM677 183h1v1h-1zM678 183h1v1h-1zM679 183h1v1h-1zM680 183h1v1h-1zM681 183h1v1h-1zM682 183h1v1h-1zM683 184h1v1h-1zM684 184h1v1h-1zM685 184h1v1h-1zM686 184h1v1h-1zM687 184h1v1h-1zM688 184h1v1h-1zM689 184h1v1h-1zM690 184h1v1h-1zM691 184h1v1h-1zM692 184h1v1h-1zM693 184h1v1h-1zM694 184h1v1h-1zM695 184h1v1h-1zM696 184h1v1h-1zM697 184h1v1h-1zM698 184h1v1h-1zM699 184h1v1h-1zM700 184h1v1h-1zM701 184h1v1h-1zM702 184h1v1h-1zM703 184h1v1h-1zM704 184h1v1h-1zM705 184h1v1h-1zM706 184h1v1h-1zM707 184h1v1h-1zM708 184h1v1h-1zM709 184h1v1h-1zM710 184h1v1h-1zM711 184h1v1h-1zM712 184h1v1h-1zM713 184h1v1h-1zM714 184h1v1h-1zM715 184h1v1h-1zM716 184h1v1h-1zM717 184h1v1h-1zM718 184h1v1h-1zM719 184h1v1h-1z" fill="#000" shape-rendering="crispEdges"/>
<path d="M90 526h1v1h-1zM91 526h1v1h-1zM92 526h1v1h-1zM93 525h1v1h-1zM94 525h1v1h-1zM95 525h1v1h-1zM96 524h1v1h-1zM97 524h1v1h-1zM98 524h1v1h-1zM99 523h1v1h-1zM100 523h1v1h-1zM101 523h1v1h-1zM102 522h1v1h-1zM103 522h1v1h-1zM104 522h1v1h-1zM105 521h1v1h-1zM106 521h1v1h-1zM107 521h1v1h-1zM108 520h1v1h-1zM109 520h1v1h-1zM110 520h1v1h-1zM111 519h1v1h-1zM112 519h1v1h-1zM113 518h1v1h-1zM114 518h1v1h-1zM115 518h1v1h-1zM116 517h1v1h-1zM117 517h1v1h-1zM118 517h1v1h-1zM119 516h1v1h-1zM120 516h1v1h-1zM121 515h1v1h-1zM122 515h1v1h-1zM123 515h1v1h-1zM124 514h1v1h-1zM125 514h1v1h-1zM126 513h1v1h-1zM127 513h1v1h-1zM128 513h1v1h-1zM129 512h1v1h-1zM130 512h1v1h-1zM131 512h1v1h-1zM132 511h1v1h-1zM133 511h1v1h-1zM134 511h1v1h-1zM135 510h1v1h-1zM136 510h1v1h-1zM137 510h1v1h-1zM138 509h1v1h-1zM139 509h1v1h-1zM140 509h1v1h-1zM141 509h1v1h-1zM142 508h1v1h-1zM143 508h1v1h-1zM144 508h1v1h-1zM145 507h1v1h-1zM146 507h1v1h-1zM147 507h1v1h-1zM148 506h1v1h-1zM149 506h1v1h-1zM150 506h1v1h-1zM151 505h1v1h-1zM152 505h1v1h-1zM153 505h1v1h-1zM154 505h1v1h-1zM155 504h1v1h-1zM156 504h1v1h-1zM157 504h1v1h-1zM158 503h1v1h-1zM159 503h1v1h-1zM160 503h1v1h-1zM161 503h1v1h-1zM162 502h1v1h-1zM163 502h1v1h-1zM164 502h1v1h-1zM165 501h1v1h-1zM166 501h1v1h-1zM167 501h1v1h-1zM168 501h1v1h-1zM169 500h1v1h-1zM170 500h1v1h-1zM171 500h1v1h-1zM172 499h1v1h-1zM173 499h1v1h-1zM174 499h1v1h-1zM175 498h1v1h-1zM176 498h1v1h-1zM177 498h1v1h-1zM178 498h1v1h-1zM179 497h1v1h-1zM180 497h1v1h-1zM181 497h1v1h-1zM182 496h1v1h-1zM183 496h1v1h-1zM184 496h1v1h-1zM185 495h1v1h-1zM186 495h1v1h-1zM187 495h1v1h-1zM188 494h1v1h-1zM189 494h1v1h-1zM190 493h1v1h-1zM191 493h1v1h-1zM192 493h1v1h-1zM193 492h1v1h-1zM194 492h1v1h-1zM195 492h1v1h-1zM196 491h1v1h-1zM197 491h1v1h-1zM198 491h1v1h-1zM199 490h1v1h-1zM200 490h1v1h-1zM201 490h1v1h-1zM202 489h1v1h-1zM203 489h1v1h-1zM204 489h1v1h-1zM205 488h1v1h-1zM206 488h1v1h-1zM207 488h1v1h-1zM208 487h1v1h-1zM209 487h1v1h-1zM210 487h1v1h-1zM211 486h1v1h-1zM212 486h1v1h-1zM213 486h1v1h-1zM214 485h1v1h-1zM215 485h1v1h-1zM216 485h1v1h-1zM217 484h1v1h-1zM218 484h1v1h-1zM219 484h1v1h-1zM220 483h1v1h-1zM221 483h1v1h-1zM222 483h1v1h-1zM223 482h1v1h-1zM224 482h1v1h-1zM225 482h1v1h-1zM226 481h1v1h-1zM227 481h1v1h-1zM228 481h1v1h-1zM229 480h1v1h-1zM230 480h1v1h-1zM231 480h1v1h-1zM232 480h1v1h-1zM233 479h1v1h-1zM234 479h1v1h-1zM235 479h1v1h-1zM236 479h1v1h-1zM237 478h1v1h-1zM238 478h1v1h-1zM239 478h1v1h-1zM240 477h1v1h-1zM241 477h1v1h-1zM242 477h1v1h-1zM243 477h1v1h-1zM244 476h1v1h-1zM245 476h1v1h-1zM246 476h1v1h-1zM247 476h1v1h-1zM248 475h1v1h-1zM249 475h1v1h-1zM250 475h1v1h-1zM251 474h1v1h-1zM252 474h1v1h-1zM253 474h1v1h-1zM254 473h1v1h-1zM255 473h1v1h-1zM256 473h1v1h-1zM257 472h1v1h-1zM258 472h1v1h-1zM259 471h1v1h-1zM260 471h1v1h-1zM261 471h1v1h-1zM262 470h1v1h-1zM263 470h1v1h-1zM264 470h1v1h-1zM265 469h1v1h-1zM266 469h1v1h-1zM267 469h1v1h-1zM268 468h1v1h-1zM269 468h1v1h-1zM270 468h1v1h-1zM271 467h1v1h-1zM272 467h1v1h-1zM273 467h1v1h-1zM274 466h1v1h-1zM275 466h1v1h-1zM276 466h1v1h-1zM277 465h1v1h-1zM278 465h1v1h-1zM279 465h1v1h-1zM280 464h1v1h-1zM281 464h1v1h-1zM282 464h1v1h-1zM283 463h1v1h-1zM284 463h1v1h-1zM285 462h1v1h-1zM286 462h1v1h-1zM287 462h1v1h-1zM288 461h1v1h-1zM289 461h1v1h-1zM290 461h1v1h-1zM291 460h1v1h-1zM292 460h1v1h-1zM293 460h1v1h-1zM294 459h1v1h-1zM295 459h1v1h-1zM296 459h1v1h-1zM297 458h1v1h-1zM298 458h1v1h-1zM299 458h1v1h-1zM300 457h1v1h-1zM301 457h1v1h-1zM302 457h1v1h-1zM303 457h1v1h-1zM304 456h1v1h-1zM305 456h1v1h-1zM306 456h1v1h-1zM307 455h1v1h-1zM308 455h1v1h-1zM309 455h1v1h-1zM310 454h1v1h-1zM311 454h1v1h-1zM312 454h1v1h-1zM313 453h1v1h-1zM314 453h1v1h-1zM315 453h1v1h-1zM316 452h1v1h-1zM317 452h1v1h-1zM318 452h1v1h-1zM319 451h1v1h-1zM320 451h1v1h-1zM321 451h1v1h-1zM322 451h1v1h-1zM323 450h1v1h-1zM324 450h1v1h-1zM325 450h1v1h-1zM326 449h1v1h-1zM327 449h1v1h-1zM328 449h1v1h-1zM329 448h1v1h-1zM330 448h1v1h-1zM331 448h1v1h-1zM332 447h1v1h-1zM333 447h1v1h-1zM334 447h1v1h-1zM335 447h1v1h-1zM336 446h1v1h-1zM337 446h1v1h-1zM338 446h1v1h-1zM339 445h1v1h-1zM340 445h1v1h-1zM341 445h1v1h-1zM342 445h1v1h-1zM343 444h1v1h-1zM344 444h1v1h-1zM345 444h1v1h-1zM346 443h1v1h-1zM347 443h1v1h-1zM348 443h1v1h-1zM349 443h1v1h-1zM350 442h1v1h-1zM351 442h1v1h-1zM352 442h1v1h-1zM353 441h1v1h-1zM354 441h1v1h-1zM355 441h1v1h-1zM356 440h1v1h-1zM357 440h1v1h-1zM358 440h1v1h-1zM359 440h1v1h-1zM360 439h1v1h-1zM361 439h1v1h-1zM362 439h1v1h-1zM363 438h1v1h-1zM364 438h1v1h-1zM365 438h1v1h-1zM366 438h1v1h-1zM367 437h1v1h-1zM368 437h1v1h-1zM369 437h1v1h-1zM370 436h1v1h-1zM371 436h1v1h-1zM372 436h1v1h-1zM373 435h1v1h-1zM374 435h1v1h-1zM375 435h1v1h-1zM376 434h1v1h-1zM377 434h1v1h-1zM378 434h1v1h-1zM379 433h1v1h-1zM380 433h1v1h-1zM381 433h1v1h-1zM382 432h1v1h-1zM383 432h1v1h-1zM384 431h1v1h-1zM385 431h1v1h-1zM386 431h1v1h-1zM387 430h1v1h-1zM388 430h1v1h-1zM389 430h1v1h-1zM390 429h1v1h-1zM391 429h1v1h-1zM392 429h1v1h-1zM393 428h1v1h-1zM394 428h1v1h-1zM395 428h1v1h-1zM396 427h1v1h-1zM397 427h1v1h-1zM398 427h1v1h-1zM399 426h1v1h-1zM400 426h1v1h-1zM401 426h1v1h-1zM402 425h1v1h-1zM403 425h1v1h-1zM404 425h1v1h-1zM405 424h1v1h-1zM406 424h1v1h-1zM407 424h1v1h-1zM408 423h1v1h-1zM409 423h1v1h-1zM410 423h1v1h-1zM411 422h1v1h-1zM412 422h1v1h-1zM413 422h1v1h-1zM414 422h1v1h-1zM415 421h1v1h-1zM416 421h1v1h-1zM417 421h1v1h-1zM418 420h1v1h-1zM419 420h1v1h-1zM420 420h1v1h-1zM421 419h1v1h-1zM422 419h1v1h-1zM423 419h1v1h-1zM424 418h1v1h-1zM425 418h1v1h-1zM426 418h1v1h-1zM427 418h1v1h-1zM428 417h1v1h-1zM429 417h1v1h-1zM430 417h1v1h-1zM431 416h1v1h-1zM432 416h1v1h-1zM433 416h1v1h-1zM434 415h1v1h-1zM435 415h1v1h-1zM436 415h1v1h-1zM437 414h1v1h-1zM438 414h1v1h-1zM439 414h1v1h-1zM440 413h1v1h-1zM441 413h1v1h-1zM442 413h1v1h-1zM443 412h1v1h-1zM444 412h1v1h-1zM445 412h1v1h-1zM446 411h1v1h-1zM447 411h1v1h-1zM448 411h1v1h-1zM449 410h1v1h-1zM450 410h1v1h-1zM451 410h1v1h-1zM452 409h1v1h-1zM453 409h1v1h-1zM454 409h1v1h-1zM455 409h1v1h-1zM456 408h1v1h-1zM457 408h1v1h-1zM458 408h1v1h-1zM459 408h1v1h-1zM460 407h1v1h-1zM461 407h1v1h-1zM462 407h1v1h-1zM463 407h1v1h-1zM464 406h1v1h-1zM465 406h1v1h-1zM466 406h1v1h-1zM467 405h1v1h-1zM468 405h1v1h-1zM469 405h1v1h-1zM470 405h1v1h-1zM471 404h1v1h-1zM472 404h1v1h-1zM473 404h1v1h-1zM474 404h1v1h-1zM475 403h1v1h-1zM476 403h1v1h-1zM477 403h1v1h-1zM478 403h1v1h-1zM479 402h1v1h-1zM480 402h1v1h-1zM481 402h1v1h-1zM482 401h1v1h-1zM483 401h1v1h-1zM484 401h1v1h-1zM485 401h1v1h-1zM486 400h1v1h-1zM487 400h1v1h-1zM488 400h1v1h-1zM489 399h1v1h-1zM490 399h1v1h-1zM491 399h1v1h-1zM492 399h1v1h-1zM493 398h1v1h-1zM494 398h1v1h-1zM495 398h1v1h-1zM496 398h1v1h-1zM497 397h1v1h-1zM498 397h1v1h-1zM499 397h1v1h-1zM500 396h1v1h-1zM501 396h1v1h-1zM502 396h1v1h-1zM503 396h1v1h-1zM504 395h1v1h-1zM505 395h1v1h-1zM506 395h1v1h-1zM507 395h1v1h-1zM508 394h1v1h-1zM509 394h1v1h-1zM510 394h1v1h-1zM511 394h1v1h-1zM512 393h1v1h-1zM513 393h1v1h-1zM514 393h1v1h-1zM515 393h1v1h-1zM516 392h1v1h-1zM517 392h1v1h-1zM518 392h1v1h-1zM519 392h1v1h-1zM520 391h1v1h-1zM521 391h1v1h-1zM522 391h1v1h-1zM523 391h1v1h-1zM524 390h1v1h-1zM525 390h1v1h-1zM526 390h1v1h-1zM527 390h1v1h-1zM528 389h1v1h-1zM529 389h1v1h-1zM530 389h1v1h-1zM531 389h1v1h-1zM532 388h1v1h-1zM533 388h1v1h-1zM534 388h1v1h-1zM535 388h1v1h-1zM536 387h1v1h-1zM537 387h1v1h-1zM538 387h1v1h-1zM539 387h1v1h-1zM540 386h1v1h-1zM541 386h1v1h-1zM542 386h1v1h-1zM543 386h1v1h-1zM544 385h1v1h-1zM545 385h1v1h-1zM546 385h1v1h-1zM547 384h1v1h-1zM548 384h1v1h-1zM549 384h1v1h-1zM550 384h1v1h-1zM551 383h1v1h-1zM552 383h1v1h-1zM553 383h1v1h-1zM554 382h1v1h-1zM555 382h1v1h-1zM556 382h1v1h-1zM557 382h1v1h-1zM558 381h1v1h-1zM559 381h1v1h-1zM560 381h1v1h-1zM561 380h1v1h-1zM562 380h1v1h-1zM563 380h1v1h-1zM564 380h1v1h-1zM565 379h1v1h-1zM566 379h1v1h-1zM567 379h1v1h-1zM568 379h1v1h-1zM569 378h1v1h-1zM570 378h1v1h-1zM571 378h1v1h-1zM572 377h1v1h-1zM573 377h1v1h-1zM574 377h1v1h-1zM575 377h1v1h-1zM576 376h1v1h-1zM577 376h1v1h-1zM578 376h1v1h-1zM579 376h1v1h-1zM580 375h1v1h-1zM581 375h1v1h-1zM582 375h1v1h-1zM583 375h1v1h-1zM584 374h1v1h-1zM585 374h1v1h-1zM586 374h1v1h-1zM587 374h1v1h-1zM588 373h1v1h-1zM589 373h1v1h-1zM590 373h1v1h-1zM591 373h1v1h-1zM592 372h1v1h-1zM593 372h1v1h-1zM594 372h1v1h-1zM595 372h1v1h-1zM596 371h1v1h-1zM597 371h1v1h-1zM598 371h1v1h-1zM599 371h1v1h-1zM600 371h1v1h-1zM601 370h1v1h-1zM602 370h1v1h-1zM603 370h1v1h-1zM604 370h1v1h-1zM605 369h1v1h-1zM606 369h1v1h-1zM607 369h1v1h-1zM608 369h1v1h-1zM609 368h1v1h-1zM610 368h1v1h-1zM611 368h1v1h-1zM612 368h1v1h-1zM613 367h1v1h-1zM614 367h1v1h-1zM615 367h1v1h-1zM616 367h1v1h-1zM617 366h1v1h-1zM618 366h1v1h-1zM619 366h1v1h-1zM620 366h1v1h-1zM621 366h1v1h-1zM622 365h1v1h-1zM623 365h1v1h-1zM624 365h1v1h-1zM625 365h1v1h-1zM626 364h1v1h-1zM627 364h1v1h-1zM628 364h1v1h-1zM629 364h1v1h-1zM630 363h1v1h-1zM631 363h1v1h-1zM632 363h1v1h-1zM633 363h1v1h-1zM634 363h1v1h-1zM635 362h1v1h-1zM636 362h1v1h-1zM637 362h1v1h-1zM638 362h1v1h-1zM639 361h1v1h-1zM640 361h1v1h-1zM641 361h1v1h-1zM642 361h1v1h-1zM643 360h1v1h-1zM644 360h1v1h-1zM645 360h1v1h-1zM646 360h1v1h-1zM647 360h1v1h-1zM648 359h1v1h-1zM649 359h1v1h-1zM650 359h1v1h-1zM651 359h1v1h-1zM652 358h1v1h-1zM653 358h1v1h-1zM654 358h1v1h-1zM655 358h1v1h-1zM656 358h1v1h-1zM657 357h1v1h-1zM658 357h1v1h-1zM659 357h1v1h-1zM660 357h1v1h-1zM661 356h1v1h-1zM662 356h1v1h-1zM663 356h1v1h-1zM664 356h1v1h-1zM665 355h1v1h-1zM666 355h1v1h-1zM667 355h1v1h-1zM668 355h1v1h-1zM669 355h1v1h-1zM670 354h1v1h-1zM671 354h1v1h-1zM672 354h1v1h-1zM673 354h1v1h-1zM674 353h1v1h-1zM675 353h1v1h-1zM676 353h1v1h-1zM677 353h1v1h-1zM678 353h1v1h-1zM679 352h1v1h-1zM680 352h1v1h-1zM681 352h1v1h-1zM682 352h1v1h-1zM683 351h1v1h-1zM684 351h1v1h-1zM685 351h1v1h-1zM686 351h1v1h-1zM687 351h1v1h-1zM688 350h1v1h-1zM689 350h1v1h-1zM690 350h1v1h-1zM691 350h1v1h-1zM692 350h1v1h-1zM693 349h1v1h-1zM694 349h1v1h-1zM695 349h1v1h-1zM696 349h1v1h-1zM697 348h1v1h-1zM698 348h1v1h-1zM699 348h1v1h-1zM700 348h1v1h-1zM701 348h1v1h-1zM702 347h1v1h-1zM703 347h1v1h-1zM704 347h1v1h-1zM705 347h1v1h-1zM706 347h1v1h-1zM707 346h1v1h-1zM708 346h1v1h-1zM709 346h1v1h-1zM710 346h1v1h-1zM711 346h1v1h-1zM712 345h1v1h-1zM713 345h1v1h-1zM714 345h1v1h-1zM715 345h1v1h-1zM716 344h1v1h-1zM717 344h1v1h-1zM718 344h1v1h-1zM719 344h1v1h-1z" fill="#f020f0" shape-rendering="crispEdges"/>
<path d="M86 196h1v2h-1zM87 196h1v2h-1zM88 196h1v2h-1zM89 196h1v2h-1zM90 196h1v2h-1zM91 196h1v2h-1zM92 195h1v2h-1zM93 195h1v2h-1zM94 195h1v2h-1zM95 195h1v2h-1zM96 195h1v2h-1zM97 195h1v2h-1zM98 195h1v2h-1zM99 194h1v2h-1zM100 194h1v2h-1zM101 194h1v2h-1zM102 194h1v2h-1zM103 194h1v2h-1zM104 194h1v2h-1zM105 193h1v2h-1zM106 193h1v2h-1zM107 193h1v2h-1zM108 193h1v2h-1zM109 193h1v2h-1zM110 193h1v2h-1zM111 192h1v2h-1zM112 192h1v2h-1zM113 192h1v2h-1zM114 192h1v2h-1zM115 192h1v2h-1zM116 192h1v2h-1zM117 192h1v2h-1zM118 191h1v2h-1zM119 191h1v2h-1zM120 191h1v2h-1zM121 191h1v2h-1zM122 191h1v2h-1zM123 191h1v2h-1zM124 190h1v2h-1zM125 190h1v2h-1zM126 190h1v2h-1zM127 190h1v2h-1zM128 190h1v2h-1zM129 190h1v2h-1zM130 189h1v2h-1zM131 189h1v2h-1zM132 189h1v2h-1zM133 189h1v2h-1zM134 189h1v2h-1zM135 189h1v2h-1zM136 189h1v2h-1zM137 188h1v2h-1zM138 188h1v2h-1zM139 188h1v2h-1zM140 188h1v2h-1zM141 188h1v2h-1zM142 188h1v2h-1zM143 187h1v2h-1zM144 187h1v2h-1zM145 187h1v2h-1zM146 187h1v2h-1zM147 187h1v2h-1zM148 187h1v2h-1zM149 186h1v2h-1zM150 186h1v2h-1zM151 186h1v2h-1zM152 186h1v2h-1zM153 186h1v2h-1zM154 186h1v2h-1zM155 186h1v2h-1zM156 185h1v2h-1zM157 185h1v2h-1zM158 185h1v2h-1zM159 185h1v2h-1zM160 185h1v2h-1zM161 185h1v2h-1zM162 184h1v2h-1zM163 184h1v2h-1zM164 184h1v2h-1zM165 184h1v2h-1zM166 184h1v2h-1zM167 184h1v2h-1zM168 183h1v2h-1zM169 183h1v2h-1zM170 183h1v2h-1zM171 183h1v2h-1zM172 183h1v2h-1zM173 183h1v2h-1zM174 183h1v2h-1zM175 182h1v2h-1zM176 182h1v2h-1zM177 182h1v2h-1zM178 182h1v2h-1zM179 182h1v2h-1zM180 182h1v2h-1zM181 181h1v2h-1zM182 181h1v2h-1zM183 181h1v2h-1zM184 181h1v2h-1zM185 181h1v2h-1zM186 181h1v2h-1zM187 180h1v2h-1zM188 180h1v2h-1zM189 180h1v2h-1zM190 180h1v2h-1zM191 180h1v2h-1zM192 180h1v2h-1zM193 180h1v2h-1zM194 179h1v2h-1zM195 179h1v2h-1zM196 179h1v2h-1zM197 179h1v2h-1zM198 179h1v2h-1zM199 179h1v2h-1zM200 178h1v2h-1zM201 178h1v2h-1zM202 178h1v2h-1zM203 178h1v2h-1zM204 178h1v2h-1zM205 178h1v2h-1zM206 178h1v2h-1zM207 177h1v2h-1zM208 177h1v2h-1zM209 177h1v2h-1zM210 177h1v2h-1zM211 177h1v2h-1zM212 177h1v2h-1zM213 176h1v2h-1zM214 176h1v2h-1zM215 176h1v2h-1zM216 176h1v2h-1zM217 176h1v2h-1zM218 176h1v2h-1zM219 175h1v2h-1zM220 175h1v2h-1zM221 175h1v2h-1zM222 175h1v2h-1zM223 175h1v2h-1zM224 175h1v2h-1zM225 175h1v2h-1zM226 174h1v2h-1zM227 174h1v2h-1zM228 174h1v2h-1zM229 174h1v2h-1zM230 174h1v2h-1zM231 174h1v2h-1zM232 173h1v2h-1zM233 173h1v2h-1zM234 173h1v2h-1zM235 173h1v2h-1zM236 173h1v2h-1zM237 173h1v2h-1zM238 172h1v2h-1zM239 172h1v2h-1zM240 172h1v2h-1zM241 172h1v2h-1zM242 172h1v2h-1zM243 172h1v2h-1zM244 172h1v2h-1zM245 171h1v2h-1zM246 171h1v2h-1zM247 171h1v2h-1zM248 171h1v2h-1zM249 171h1v2h-1zM250 171h1v2h-1zM251 170h1v2h-1zM252 170h1v2h-1zM253 170h1v2h-1zM254 170h1v2h-1zM255 170h1v2h-1zM256 170h1v2h-1zM257 169h1v2h-1zM258 169h1v2h-1zM259 169h1v2h-1zM260 169h1v2h-1zM261 169h1v2h-1zM262 169h1v2h-1zM263 169h1v2h-1zM264 168h1v2h-1zM265 168h1v2h-1zM266 168h1v2h-1zM267 168h1v2h-1zM268 168h1v2h-1zM269 168h1v2h-1zM270 167h1v2h-1zM271 167h1v2h-1zM272 167h1v2h-1zM273 167h1v2h-1zM274 167h1v2h-1zM275 167h1v2h-1zM276 166h1v2h-1zM277 166h1v2h-1zM278 166h1v2h-1zM279 166h1v2h-1zM280 166h1v2h-1zM281 166h1v2h-1zM282 166h1v2h-1zM283 165h1v2h-1zM284 165h1v2h-1zM285 165h1v2h-1zM286 165h1v2h-1zM287 165h1v2h-1zM288 165h1v2h-1zM289 164h1v2h-1zM290 164h1v2h-1zM291 164h1v2h-1zM292 164h1v2h-1zM293 164h1v2h-1zM294 164h1v2h-1zM295 163h1v2h-1zM296 163h1v2h-1zM297 163h1v2h-1zM298 163h1v2h-1zM299 163h1v2h-1zM300 163h1v2h-1zM301 163h1v2h-1zM302 162h1v2h-1zM303 162h1v2h-1zM304 162h1v2h-1zM305 162h1v2h-1zM306 162h1v2h-1zM307 162h1v2h-1zM308 161h1v2h-1zM309 161h1v2h-1zM310 161h1v2h-1zM311 161h1v2h-1zM312 161h1v2h-1zM313 161h1v2h-1zM314 161h1v2h-1zM315 160h1v2h-1zM316 160h1v2h-1zM317 160h1v2h-1zM318 160h1v2h-1zM319 160h1v2h-1zM320 160h1v2h-1zM321 159h1v2h-1zM322 159h1v2h-1zM323 159h1v2h-1zM324 159h1v2h-1zM325 159h1v2h-1zM326 159h1v2h-1zM327 158h1v2h-1zM328 158h1v2h-1zM329 158h1v2h-1zM330 158h1v2h-1zM331 158h1v2h-1zM332 158h1v2h-1zM333 158h1v2h-1zM334 157h1v2h-1zM335 157h1v2h-1zM336 157h1v2h-1zM337 157h1v2h-1zM338 157h1v2h-1zM339 157h1v2h-1zM340 156h1v2h-1zM341 156h1v2h-1zM342 156h1v2h-1zM343 156h1v2h-1zM344 156h1v2h-1zM345 156h1v2h-1zM346 155h1v2h-1zM347 155h1v2h-1zM348 155h1v2h-1zM349 155h1v2h-1zM350 155h1v2h-1zM351 155h1v2h-1zM352 155h1v2h-1zM353 154h1v2h-1zM354 154h1v2h-1zM355 154h1v2h-1zM356 154h1v2h-1zM357 154h1v2h-1zM358 154h1v2h-1zM359 153h1v2h-1zM360 153h1v2h-1zM361 153h1v2h-1zM362 153h1v2h-1zM363 153h1v2h-1zM364 153h1v2h-1zM365 152h1v2h-1zM366 152h1v2h-1zM367 152h1v2h-1zM368 152h1v2h-1zM369 152h1v2h-1zM370 152h1v2h-1zM371 152h1v2h-1zM372 151h1v2h-1zM373 151h1v2h-1zM374 151h1v2h-1zM375 151h1v2h-1zM376 151h1v2h-1zM377 151h1v2h-1zM378 150h1v2h-1zM379 150h1v2h-1zM380 150h1v2h-1zM381 150h1v2h-1zM382 150h1v2h-1zM383 150h1v2h-1zM384 149h1v2h-1zM385 149h1v2h-1zM386 149h1v2h-1zM387 149h1v2h-1zM388 149h1v2h-1zM389 149h1v2h-1zM390 149h1v2h-1zM391 148h1v2h-1zM392 148h1v2h-1zM393 148h1v2h-1zM394 148h1v2h-1zM395 148h1v2h-1zM396 148h1v2h-1zM397 147h1v2h-1zM398 147h1v2h-1zM399 147h1v2h-1zM400 147h1v2h-1zM401 147h1v2h-1zM402 147h1v2h-1zM403 146h1v2h-1zM404 146h1v2h-1zM405 146h1v2h-1zM406 146h1v2h-1zM407 146h1v2h-1zM408 146h1v2h-1zM409 146h1v2h-1zM410 145h1v2h-1zM411 145h1v2h-1zM412 145h1v2h-1zM413 145h1v2h-1zM414 145h1v2h-1zM415 145h1v2h-1zM416 144h1v2h-1zM417 144h1v2h-1zM418 144h1v2h-1zM419 144h1v2h-1zM420 144h1v2h-1zM421 144h1v2h-1zM422 144h1v2h-1zM423 143h1v2h-1zM424 143h1v2h-1zM425 143h1v2h-1zM426 143h1v2h-1zM427 143h1v2h-1zM428 143h1v2h-1zM429 142h1v2h-1zM430 142h1v2h-1zM431 142h1v2h-1zM432 142h1v2h-1zM433 142h1v2h-1zM434 142h1v2h-1zM435 141h1v2h-1zM436 141h1v2h-1zM437 141h1v2h-1zM438 141h1v2h-1zM439 141h1v2h-1zM440 141h1v2h-1zM441 141h1v2h-1zM442 140h1v2h-1zM443 140h1v2h-1zM444 140h1v2h-1zM445 140h1v2h-1zM446 140h1v2h-1zM447 140h1v2h-1zM448 139h1v2h-1zM449 139h1v2h-1zM450 139h1v2h-1zM451 139h1v2h-1zM452 139h1v2h-1zM453 139h1v2h-1zM454 138h1v2h-1zM455 138h1v2h-1zM456 138h1v2h-1zM457 138h1v2h-1zM458 138h1v2h-1zM459 138h1v2h-1zM460 138h1v2h-1zM461 137h1v2h-1zM462 137h1v2h-1zM463 137h1v2h-1zM464 137h1v2h-1zM465 137h1v2h-1zM466 137h1v2h-1zM467 136h1v2h-1zM468 136h1v2h-1zM469 136h1v2h-1zM470 136h1v2h-1zM471 136h1v2h-1zM472 136h1v2h-1zM473 135h1v2h-1zM474 135h1v2h-1zM475 135h1v2h-1zM476 135h1v2h-1zM477 135h1v2h-1zM478 135h1v2h-1zM479 135h1v2h-1zM480 134h1v2h-1zM481 134h1v2h-1zM482 134h1v2h-1zM483 134h1v2h-1zM484 134h1v2h-1zM485 134h1v2h-1zM486 133h1v2h-1zM487 133h1v2h-1zM488 133h1v2h-1zM489 133h1v2h-1zM490 133h1v2h-1zM491 133h1v2h-1zM492 132h1v2h-1zM493 132h1v2h-1zM494 132h1v2h-1zM495 132h1v2h-1zM496 132h1v2h-1zM497 132h1v2h-1zM498 132h1v2h-1zM499 131h1v2h-1zM500 131h1v2h-1zM501 131h1v2h-1zM502 131h1v2h-1zM503 131h1v2h-1zM504 131h1v2h-1zM505 130h1v2h-1zM506 130h1v2h-1zM507 130h1v2h-1zM508 130h1v2h-1zM509 130h1v2h-1zM510 130h1v2h-1zM511 129h1v2h-1zM512 129h1v2h-1zM513 129h1v2h-1zM514 129h1v2h-1zM515 129h1v2h-1zM516 129h1v2h-1zM517 129h1v2h-1zM518 128h1v2h-1zM519 128h1v2h-1zM520 128h1v2h-1zM521 128h1v2h-1zM522 128h1v2h-1zM523 128h1v2h-1zM524 127h1v2h-1zM525 127h1v2h-1zM526 127h1v2h-1zM527 127h1v2h-1zM528 127h1v2h-1zM529 127h1v2h-1zM530 127h1v2h-1zM531 126h1v2h-1zM532 126h1v2h-1zM533 126h1v2h-1zM534 126h1v2h-1zM535 126h1v2h-1zM536 126h1v2h-1zM537 125h1v2h-1zM538 125h1v2h-1zM539 125h1v2h-1zM540 125h1v2h-1zM541 125h1v2h-1zM542 125h1v2h-1zM543 124h1v2h-1zM544 124h1v2h-1zM545 124h1v2h-1zM546 124h1v2h-1zM547 124h1v2h-1zM548 124h1v2h-1zM549 124h1v2h-1zM550 123h1v2h-1zM551 123h1v2h-1zM552 123h1v2h-1zM553 123h1v2h-1zM554 123h1v2h-1zM555 123h1v2h-1zM556 122h1v2h-1zM557 122h1v2h-1zM558 122h1v2h-1zM559 122h1v2h-1zM560 122h1v2h-1zM561 122h1v2h-1zM562 121h1v2h-1zM563 121h1v2h-1zM564 121h1v2h-1zM565 121h1v2h-1zM566 121h1v2h-1zM567 121h1v2h-1zM568 121h1v2h-1zM569 120h1v2h-1zM570 120h1v2h-1zM571 120h1v2h-1zM572 120h1v2h-1zM573 120h1v2h-1zM574 120h1v2h-1zM575 119h1v2h-1zM576 119h1v2h-1zM577 119h1v2h-1zM578 119h1v2h-1zM579 119h1v2h-1zM580 119h1v2h-1zM581 118h1v2h-1zM582 118h1v2h-1zM583 118h1v2h-1zM584 118h1v2h-1zM585 118h1v2h-1zM586 118h1v2h-1zM587 118h1v2h-1zM588 117h1v2h-1zM589 117h1v2h-1zM590 117h1v2h-1zM591 117h1v2h-1zM592 117h1v2h-1zM593 117h1v2h-1zM594 116h1v2h-1zM595 116h1v2h-1zM596 116h1v2h-1zM597 116h1v2h-1zM598 116h1v2h-1zM599 116h1v2h-1zM600 115h1v2h-1zM601 115h1v2h-1zM602 115h1v2h-1zM603 115h1v2h-1zM604 115h1v2h-1zM605 115h1v2h-1zM606 115h1v2h-1zM607 114h1v2h-1zM608 114h1v2h-1zM609 114h1v2h-1zM610 114h1v2h-1zM611 114h1v2h-1zM612 114h1v2h-1zM613 113h1v2h-1zM614 113h1v2h-1zM615 113h1v2h-1zM616 113h1v2h-1zM617 113h1v2h-1zM618 113h1v2h-1zM619 112h1v2h-1zM620 112h1v2h-1zM621 112h1v2h-1zM622 112h1v2h-1zM623 112h1v2h-1zM624 112h1v2h-1zM625 112h1v2h-1zM626 111h1v2h-1zM627 111h1v2h-1zM628 111h1v2h-1zM629 111h1v2h-1zM630 111h1v2h-1zM631 111h1v2h-1zM632 110h1v2h-1zM633 110h1v2h-1zM634 110h1v2h-1zM635 110h1v2h-1zM636 110h1v2h-1zM637 110h1v2h-1zM638 110h1v2h-1zM639 109h1v2h-1zM640 109h1v2h-1zM641 109h1v2h-1zM642 109h1v2h-1zM643 109h1v2h-1zM644 109h1v2h-1zM645 108h1v2h-1zM646 108h1v2h-1zM647 108h1v2h-1zM648 108h1v2h-1zM649 108h1v2h-1zM650 108h1v2h-1zM651 107h1v2h-1zM652 107h1v2h-1zM653 107h1v2h-1zM654 107h1v2h-1zM655 107h1v2h-1zM656 107h1v2h-1zM657 107h1v2h-1zM658 106h1v2h-1zM659 106h1v2h-1zM660 106h1v2h-1zM661 106h1v2h-1zM662 106h1v2h-1zM663 106h1v2h-1zM664 105h1v2h-1zM665 105h1v2h-1zM666 105h1v2h-1zM667 105h1v2h-1zM668 105h1v2h-1zM669 105h1v2h-1zM670 104h1v2h-1zM671 104h1v2h-1zM672 104h1v2h-1zM673 104h1v2h-1zM674 104h1v2h-1zM675 104h1v2h-1zM676 104h1v2h-1zM677 103h1v2h-1zM678 103h1v2h-1zM679 103h1v2h-1zM680 103h1v2h-1zM681 103h1v2h-1zM682 103h1v2h-1zM683 102h1v2h-1zM684 102h1v2h-1zM685 102h1v2h-1zM686 102h1v2h-1zM687 102h1v2h-1zM688 102h1v2h-1zM689 101h1v2h-1zM690 101h1v2h-1zM691 101h1v2h-1zM692 101h1v2h-1zM693 101h1v2h-1zM694 101h1v2h-1zM695 101h1v2h-1zM696 100h1v2h-1zM697 100h1v2h-1zM698 100h1v2h-1zM699 100h1v2h-1zM700 100h1v2h-1zM701 100h1v2h-1zM702 99h1v2h-1zM703 99h1v2h-1zM704 99h1v2h-1zM705 99h1v2h-1zM706 99h1v2h-1zM707 99h1v2h-1zM708 98h1v2h-1zM709 98h1v2h-1zM710 98h1v2h-1zM711 98h1v2h-1zM712 98h1v2h-1zM713 98h1v2h-1zM714 98h1v2h-1zM715 97h1v2h-1zM716 97h1v2h-1zM717 97h1v2h-1zM718 97h1v2h-1zM719 97h1v2h-1zM720 97h1v2h-1zM721 96h1v2h-1zM722 96h1v2h-1zM723 96h1v2h-1zM724 96h1v2h-1zM725 96h1v2h-1zM726 96h1v2h-1zM727 95h1v2h-1zM728 95h1v2h-1zM729 95h1v2h-1zM730 95h1v2h-1zM731 95h1v2h-1zM732 95h1v2h-1zM733 95h1v2h-1zM734 94h1v2h-1zM735 94h1v2h-1zM736 94h1v2h-1zM737 94h1v2h-1zM738 94h1v2h-1zM739 94h1v2h-1zM740 93h1v2h-1zM741 93h1v2h-1zM742 93h1v2h-1zM743 93h1v2h-1zM744 93h1v2h-1zM745 93h1v2h-1zM746 93h1v2h-1zM747 92h1v2h-1zM748 92h1v2h-1zM749 92h1v2h-1zM750 92h1v2h-1zM751 92h1v2h-1zM752 92h1v2h-1zM753 91h1v2h-1zM754 91h1v2h-1zM755 91h1v2h-1zM756 91h1v2h-1zM757 91h1v2h-1zM758 91h1v2h-1zM759 90h1v2h-1zM760 90h1v2h-1zM761 90h1v2h-1zM762 90h1v2h-1zM763 90h1v2h-1zM764 90h1v2h-1zM765 90h1v2h-1zM766 89h1v2h-1zM767 89h1v2h-1zM768 89h1v2h-1zM769 89h1v2h-1zM770 89h1v2h-1zM771 89h1v2h-1zM772 88h1v2h-1zM773 88h1v2h-1zM774 88h1v2h-1zM775 88h1v2h-1zM776 88h1v2h-1zM777 88h1v2h-1zM778 87h1v2h-1zM779 87h1v2h-1zM780 87h1v2h-1zM781 87h1v2h-1zM782 87h1v2h-1zM783 87h1v2h-1zM784 87h1v2h-1zM785 86h1v2h-1zM786 86h1v2h-1zM787 86h1v2h-1zM788 86h1v2h-1zM789 86h1v2h-1zM790 86h1v2h-1zM791 85h1v2h-1zM792 85h1v2h-1zM793 85h1v2h-1zM794 85h1v2h-1zM795 85h1v2h-1zM796 85h1v2h-1zM797 84h1v2h-1zM798 84h1v2h-1zM799 84h1v2h-1zM800 84h1v2h-1zM801 84h1v2h-1zM802 84h1v2h-1zM803 84h1v2h-1zM804 83h1v2h-1zM805 83h1v2h-1zM806 83h1v2h-1zM807 83h1v2h-1zM808 83h1v2h-1zM809 83h1v2h-1zM810 82h1v2h-1zM811 82h1v2h-1zM812 82h1v2h-1zM813 82h1v2h-1zM814 82h1v2h-1zM815 82h1v2h-1zM816 81h1v2h-1zM817 81h1v2h-1zM818 81h1v2h-1zM819 81h1v2h-1zM820 81h1v2h-1zM821 81h1v2h-1zM822 81h1v2h-1zM823 80h1v2h-1zM824 80h1v2h-1zM825 80h1v2h-1zM826 80h1v2h-1zM827 80h1v2h-1zM828 80h1v2h-1zM829 79h1v2h-1zM830 79h1v2h-1zM831 79h1v2h-1zM832 79h1v2h-1zM833 79h1v2h-1zM834 79h1v2h-1zM835 78h1v2h-1zM836 78h1v2h-1zM837 78h1v2h-1zM838 78h1v2h-1zM839 78h1v2h-1zM840 78h1v2h-1zM841 78h1v2h-1zM842 77h1v2h-1zM843 77h1v2h-1zM844 77h1v2h-1zM845 77h1v2h-1zM846 77h1v2h-1zM847 77h1v2h-1z" fill="#ff0000" shape-rendering="crispEdges"/>
<path d="M86 344h1v2h-1zM87 344h1v2h-1zM88 344h1v2h-1zM89 344h1v2h-1zM90 344h1v2h-1zM91 344h1v2h-1zM92 343h1v2h-1zM93 343h1v2h-1zM94 343h1v2h-1zM95 343h1v2h-1zM96 343h1v2h-1zM97 343h1v2h-1zM98 342h1v2h-1zM99 342h1v2h-1zM100 342h1v2h-1zM101 342h1v2h-1zM102 342h1v2h-1zM103 342h1v2h-1zM104 342h1v2h-1zM105 341h1v2h-1zM106 341h1v2h-1zM107 341h1v2h-1zM108 341h1v2h-1zM109 341h1v2h-1zM110 341h1v2h-1zM111 340h1v2h-1zM112 340h1v2h-1zM113 340h1v2h-1zM114 340h1v2h-1zM115 340h1v2h-1zM116 340h1v2h-1zM117 339h1v2h-1zM118 339h1v2h-1zM119 339h1v2h-1zM120 339h1v2h-1zM121 339h1v2h-1zM122 339h1v2h-1zM123 339h1v2h-1zM124 338h1v2h-1zM125 338h1v2h-1zM126 338h1v2h-1zM127 338h1v2h-1zM128 338h1v2h-1zM129 338h1v2h-1zM130 337h1v2h-1zM131 337h1v2h-1zM132 337h1v2h-1zM133 337h1v2h-1zM134 337h1v2h-1zM135 337h1v2h-1zM136 336h1v2h-1zM137 336h1v2h-1zM138 336h1v2h-1zM139 336h1v2h-1zM140 336h1v2h-1zM141 336h1v2h-1zM142 336h1v2h-1zM143 335h1v2h-1zM144 335h1v2h-1zM145 335h1v2h-1zM146 335h1v2h-1zM147 335h1v2h-1zM148 335h1v2h-1zM149 334h1v2h-1zM150 334h1v2h-1zM151 334h1v2h-1zM152 334h1v2h-1zM153 334h1v2h-1zM154 334h1v2h-1zM155 333h1v2h-1zM156 333h1v2h-1zM157 333h1v2h-1zM158 333h1v2h-1zM159 333h1v2h-1zM160 333h1v2h-1zM161 332h1v2h-1zM162 332h1v2h-1zM163 332h1v2h-1zM164 332h1v2h-1zM165 332h1v2h-1zM166 332h1v2h-1zM167 332h1v2h-1zM168 331h1v2h-1zM169 331h1v2h-1zM170 331h1v2h-1zM171 331h1v2h-1zM172 331h1v2h-1zM173 331h1v2h-1zM174 330h1v2h-1zM175 330h1v2h-1zM176 330h1v2h-1zM177 330h1v2h-1zM178 330h1v2h-1zM179 330h1v2h-1zM180 329h1v2h-1zM181 329h1v2h-1zM182 329h1v2h-1zM183 329h1v2h-1zM184 329h1v2h-1zM185 329h1v2h-1zM186 329h1v2h-1zM187 328h1v2h-1zM188 328h1v2h-1zM189 328h1v2h-1zM190 328h1v2h-1zM191 328h1v2h-1zM192 328h1v2h-1zM193 327h1v2h-1zM194 327h1v2h-1zM195 327h1v2h-1zM196 327h1v2h-1zM197 327h1v2h-1zM198 327h1v2h-1zM199 326h1v2h-1zM200 326h1v2h-1zM201 326h1v2h-1zM202 326h1v2h-1zM203 326h1v2h-1zM204 326h1v2h-1zM205 326h1v2h-1zM206 325h1v2h-1zM207 325h1v2h-1zM208 325h1v2h-1zM209 325h1v2h-1zM210 325h1v2h-1zM211 325h1v2h-1zM212 324h1v2h-1zM213 324h1v2h-1zM214 324h1v2h-1zM215 324h1v2h-1zM216 324h1v2h-1zM217 324h1v2h-1zM218 323h1v2h-1zM219 323h1v2h-1zM220 323h1v2h-1zM221 323h1v2h-1zM222 323h1v2h-1zM223 323h1v2h-1zM224 322h1v2h-1zM225 322h1v2h-1zM226 322h1v2h-1zM227 322h1v2h-1zM228 322h1v2h-1zM229 322h1v2h-1zM230 322h1v2h-1zM231 321h1v2h-1zM232 321h1v2h-1zM233 321h1v2h-1zM234 321h1v2h-1zM235 321h1v2h-1zM236 321h1v2h-1zM237 320h1v2h-1zM238 320h1v2h-1zM239 320h1v2h-1zM240 320h1v2h-1zM241 320h1v2h-1zM242 320h1v2h-1zM243 319h1v2h-1zM244 319h1v2h-1zM245 319h1v2h-1zM246 319h1v2h-1zM247 319h1v2h-1zM248 319h1v2h-1zM249 319h1v2h-1zM250 318h1v2h-1zM251 318h1v2h-1zM252 318h1v2h-1zM253 318h1v2h-1zM254 318h1v2h-1zM255 318h1v2h-1zM256 317h1v2h-1zM257 317h1v2h-1zM258 317h1v2h-1zM259 317h1v2h-1zM260 317h1v2h-1zM261 317h1v2h-1zM262 316h1v2h-1zM263 316h1v2h-1zM264 316h1v2h-1zM265 316h1v2h-1zM266 316h1v2h-1zM267 316h1v2h-1zM268 316h1v2h-1zM269 315h1v2h-1zM270 315h1v2h-1zM271 315h1v2h-1zM272 315h1v2h-1zM273 315h1v2h-1zM274 315h1v2h-1zM275 314h1v2h-1zM276 314h1v2h-1zM277 314h1v2h-1zM278 314h1v2h-1zM279 314h1v2h-1zM280 314h1v2h-1zM281 313h1v2h-1zM282 313h1v2h-1zM283 313h1v2h-1zM284 313h1v2h-1zM285 313h1v2h-1zM286 313h1v2h-1zM287 312h1v2h-1zM288 312h1v2h-1zM289 312h1v2h-1zM290 312h1v2h-1zM291 312h1v2h-1zM292 312h1v2h-1zM293 312h1v2h-1zM294 311h1v2h-1zM295 311h1v2h-1zM296 311h1v2h-1zM297 311h1v2h-1zM298 311h1v2h-1zM299 311h1v2h-1zM300 310h1v2h-1zM301 310h1v2h-1zM302 310h1v2h-1zM303 310h1v2h-1zM304 310h1v2h-1zM305 310h1v2h-1zM306 309h1v2h-1zM307 309h1v2h-1zM308 309h1v2h-1zM309 309h1v2h-1zM310 309h1v2h-1zM311 309h1v2h-1zM312 309h1v2h-1zM313 308h1v2h-1zM314 308h1v2h-1zM315 308h1v2h-1zM316 308h1v2h-1zM317 308h1v2h-1zM318 308h1v2h-1zM319 307h1v2h-1zM320 307h1v2h-1zM321 307h1v2h-1zM322 307h1v2h-1zM323 307h1v2h-1zM324 307h1v2h-1zM325 306h1v2h-1zM326 306h1v2h-1zM327 306h1v2h-1zM328 306h1v2h-1zM329 306h1v2h-1zM330 306h1v2h-1zM331 306h1v2h-1zM332 305h1v2h-1zM333 305h1v2h-1zM334 305h1v2h-1zM335 305h1v2h-1zM336 305h1v2h-1zM337 305h1v2h-1zM338 304h1v2h-1zM339 304h1v2h-1zM340 304h1v2h-1zM341 304h1v2h-1zM342 304h1v2h-1zM343 304h1v2h-1zM344 303h1v2h-1zM345 303h1v2h-1zM346 303h1v2h-1zM347 303h1v2h-1zM348 303h1v2h-1zM349 303h1v2h-1zM350 302h1v2h-1zM351 302h1v2h-1zM352 302h1v2h-1zM353 302h1v2h-1zM354 302h1v2h-1zM355 302h1v2h-1zM356 302h1v2h-1zM357 301h1v2h-1zM358 301h1v2h-1zM359 301h1v2h-1zM360 301h1v2h-1zM361 301h1v2h-1zM362 301h1v2h-1zM363 300h1v2h-1zM364 300h1v2h-1zM365 300h1v2h-1zM366 300h1v2h-1zM367 300h1v2h-1zM368 300h1v2h-1zM369 299h1v2h-1zM370 299h1v2h-1zM371 299h1v2h-1zM372 299h1v2h-1zM373 299h1v2h-1zM374 299h1v2h-1zM375 299h1v2h-1zM376 298h1v2h-1zM377 298h1v2h-1zM378 298h1v2h-1zM379 298h1v2h-1zM380 298h1v2h-1zM381 298h1v2h-1zM382 297h1v2h-1zM383 297h1v2h-1zM384 297h1v2h-1zM385 297h1v2h-1zM386 297h1v2h-1zM387 297h1v2h-1zM388 296h1v2h-1zM389 296h1v2h-1zM390 296h1v2h-1zM391 296h1v2h-1zM392 296h1v2h-1zM393 296h1v2h-1zM394 296h1v2h-1zM395 295h1v2h-1zM396 295h1v2h-1zM397 295h1v2h-1zM398 295h1v2h-1zM399 295h1v2h-1zM400 295h1v2h-1zM401 294h1v2h-1zM402 294h1v2h-1zM403 294h1v2h-1zM404 294h1v2h-1zM405 294h1v2h-1zM406 294h1v2h-1zM407 293h1v2h-1zM408 293h1v2h-1zM409 293h1v2h-1zM410 293h1v2h-1zM411 293h1v2h-1zM412 293h1v2h-1zM413 292h1v2h-1zM414 292h1v2h-1zM415 292h1v2h-1zM416 292h1v2h-1zM417 292h1v2h-1zM418 292h1v2h-1zM419 292h1v2h-1zM420 291h1v2h-1zM421 291h1v2h-1zM422 291h1v2h-1zM423 291h1v2h-1zM424 291h1v2h-1zM425 291h1v2h-1zM426 290h1v2h-1zM427 290h1v2h-1zM428 290h1v2h-1zM429 290h1v2h-1zM430 290h1v2h-1zM431 290h1v2h-1zM432 289h1v2h-1zM433 289h1v2h-1zM434 289h1v2h-1zM435 289h1v2h-1zM436 289h1v2h-1zM437 289h1v2h-1zM438 289h1v2h-1zM439 288h1v2h-1zM440 288h1v2h-1zM441 288h1v2h-1zM442 288h1v2h-1zM443 288h1v2h-1zM444 288h1v2h-1zM445 287h1v2h-1zM446 287h1v2h-1zM447 287h1v2h-1zM448 287h1v2h-1zM449 287h1v2h-1zM450 287h1v2h-1zM451 286h1v2h-1zM452 286h1v2h-1zM453 286h1v2h-1zM454 286h1v2h-1zM455 286h1v2h-1zM456 286h1v2h-1zM457 286h1v2h-1zM458 285h1v2h-1zM459 285h1v2h-1zM460 285h1v2h-1zM461 285h1v2h-1zM462 285h1v2h-1zM463 285h1v2h-1zM464 284h1v2h-1zM465 284h1v2h-1zM466 284h1v2h-1zM467 284h1v2h-1zM468 284h1v2h-1zM469 284h1v2h-1zM470 283h1v2h-1zM471 283h1v2h-1zM472 283h1v2h-1zM473 283h1v2h-1zM474 283h1v2h-1zM475 283h1v2h-1zM476 282h1v2h-1zM477 282h1v2h-1zM478 282h1v2h-1zM479 282h1v2h-1zM480 282h1v2h-1zM481 282h1v2h-1zM482 282h1v2h-1zM483 281h1v2h-1zM484 281h1v2h-1zM485 281h1v2h-1zM486 281h1v2h-1zM487 281h1v2h-1zM488 281h1v2h-1zM489 280h1v2h-1zM490 280h1v2h-1zM491 280h1v2h-1zM492 280h1v2h-1zM493 280h1v2h-1zM494 280h1v2h-1zM495 279h1v2h-1zM496 279h1v2h-1zM497 279h1v2h-1zM498 279h1v2h-1zM499 279h1v2h-1zM500 279h1v2h-1zM501 279h1v2h-1zM502 278h1v2h-1zM503 278h1v2h-1zM504 278h1v2h-1zM505 278h1v2h-1zM506 278h1v2h-1zM507 278h1v2h-1zM508 277h1v2h-1zM509 277h1v2h-1zM510 277h1v2h-1zM511 277h1v2h-1zM512 277h1v2h-1zM513 277h1v2h-1zM514 276h1v2h-1zM515 276h1v2h-1zM516 276h1v2h-1zM517 276h1v2h-1zM518 276h1v2h-1zM519 276h1v2h-1zM520 276h1v2h-1zM521 275h1v2h-1zM522 275h1v2h-1zM523 275h1v2h-1zM524 275h1v2h-1zM525 275h1v2h-1zM526 275h1v2h-1zM527 274h1v2h-1zM528 274h1v2h-1zM529 274h1v2h-1zM530 274h1v2h-1zM531 274h1v2h-1zM532 274h1v2h-1zM533 273h1v2h-1zM534 273h1v2h-1zM535 273h1v2h-1zM536 273h1v2h-1zM537 273h1v2h-1zM538 273h1v2h-1zM539 272h1v2h-1zM540 272h1v2h-1zM541 272h1v2h-1zM542 272h1v2h-1zM543 272h1v2h-1zM544 272h1v2h-1zM545 272h1v2h-1zM546 271h1v2h-1zM547 271h1v2h-1zM548 271h1v2h-1zM549 271h1v2h-1zM550 271h1v2h-1zM551 271h1v2h-1zM552 270h1v2h-1zM553 270h1v2h-1zM554 270h1v2h-1zM555 270h1v2h-1zM556 270h1v2h-1zM557 270h1v2h-1zM558 269h1v2h-1zM559 269h1v2h-1zM560 269h1v2h-1zM561 269h1v2h-1zM562 269h1v2h-1zM563 269h1v2h-1zM564 269h1v2h-1zM565 268h1v2h-1zM566 268h1v2h-1zM567 268h1v2h-1zM568 268h1v2h-1zM569 268h1v2h-1zM570 268h1v2h-1zM571 267h1v2h-1zM572 267h1v2h-1zM573 267h1v2h-1zM574 267h1v2h-1zM575 267h1v2h-1zM576 267h1v2h-1zM577 266h1v2h-1zM578 266h1v2h-1zM579 266h1v2h-1zM580 266h1v2h-1zM581 266h1v2h-1zM582 266h1v2h-1zM583 266h1v2h-1zM584 265h1v2h-1zM585 265h1v2h-1zM586 265h1v2h-1zM587 265h1v2h-1zM588 265h1v2h-1zM589 265h1v2h-1zM590 264h1v2h-1zM591 264h1v2h-1zM592 264h1v2h-1zM593 264h1v2h-1zM594 264h1v2h-1zM595 264h1v2h-1zM596 263h1v2h-1zM597 263h1v2h-1zM598 263h1v2h-1zM599 263h1v2h-1zM600 263h1v2h-1zM601 263h1v2h-1zM602 262h1v2h-1zM603 262h1v2h-1zM604 262h1v2h-1zM605 262h1v2h-1zM606 262h1v2h-1zM607 262h1v2h-1zM608 262h1v2h-1zM609 261h1v2h-1zM610 261h1v2h-1zM611 261h1v2h-1zM612 261h1v2h-1zM613 261h1v2h-1zM614 261h1v2h-1zM615 260h1v2h-1zM616 260h1v2h-1zM617 260h1v2h-1zM618 260h1v2h-1zM619 260h1v2h-1zM620 260h1v2h-1zM621 259h1v2h-1zM622 259h1v2h-1zM623 259h1v2h-1zM624 259h1v2h-1zM625 259h1v2h-1zM626 259h1v2h-1zM627 259h1v2h-1zM628 258h1v2h-1zM629 258h1v2h-1zM630 258h1v2h-1zM631 258h1v2h-1zM632 258h1v2h-1zM633 258h1v2h-1zM634 257h1v2h-1zM635 257h1v2h-1zM636 257h1v2h-1zM637 257h1v2h-1zM638 257h1v2h-1zM639 257h1v2h-1zM640 256h1v2h-1zM641 256h1v2h-1zM642 256h1v2h-1zM643 256h1v2h-1zM644 256h1v2h-1zM645 256h1v2h-1zM646 256h1v2h-1zM647 255h1v2h-1zM648 255h1v2h-1zM649 255h1v2h-1zM650 255h1v2h-1zM651 255h1v2h-1zM652 255h1v2h-1zM653 254h1v2h-1zM654 254h1v2h-1zM655 254h1v2h-1zM656 254h1v2h-1zM657 254h1v2h-1zM658 254h1v2h-1zM659 253h1v2h-1zM660 253h1v2h-1zM661 253h1v2h-1zM662 253h1v2h-1zM663 253h1v2h-1zM664 253h1v2h-1zM665 252h1v2h-1zM666 252h1v2h-1zM667 252h1v2h-1zM668 252h1v2h-1zM669 252h1v2h-1zM670 252h1v2h-1zM671 252h1v2h-1zM672 251h1v2h-1zM673 251h1v2h-1zM674 251h1v2h-1zM675 251h1v2h-1zM676 251h1v2h-1zM677 251h1v2h-1zM678 250h1v2h-1zM679 250h1v2h-1zM680 250h1v2h-1zM681 250h1v2h-1zM682 250h1v2h-1zM683 250h1v2h-1zM684 249h1v2h-1zM685 249h1v2h-1zM686 249h1v2h-1zM687 249h1v2h-1zM688 249h1v2h-1zM689 249h1v2h-1zM690 249h1v2h-1zM691 248h1v2h-1zM692 248h1v2h-1zM693 248h1v2h-1zM694 248h1v2h-1zM695 248h1v2h-1zM696 248h1v2h-1zM697 247h1v2h-1zM698 247h1v2h-1zM699 247h1v2h-1zM700 247h1v2h-1zM701 247h1v2h-1zM702 247h1v2h-1zM703 246h1v2h-1zM704 246h1v2h-1zM705 246h1v2h-1zM706 246h1v2h-1zM707 246h1v2h-1zM708 246h1v2h-1zM709 246h1v2h-1zM710 245h1v2h-1zM711 245h1v2h-1zM712 245h1v2h-1zM713 245h1v2h-1zM714 245h1v2h-1zM715 245h1v2h-1zM716 244h1v2h-1zM717 244h1v2h-1zM718 244h1v2h-1zM719 244h1v2h-1zM720 244h1v2h-1zM721 244h1v2h-1zM722 243h1v2h-1zM723 243h1v2h-1zM724 243h1v2h-1zM725 243h1v2h-1zM726 243h1v2h-1zM727 243h1v2h-1zM728 242h1v2h-1zM729 242h1v2h-1zM730 242h1v2h-1zM731 242h1v2h-1zM732 242h1v2h-1zM733 242h1v2h-1zM734 242h1v2h-1zM735 241h1v2h-1zM736 241h1v2h-1zM737 241h1v2h-1zM738 241h1v2h-1zM739 241h1v2h-1zM740 241h1v2h-1zM741 240h1v2h-1zM742 240h1v2h-1zM743 240h1v2h-1zM744 240h1v2h-1zM745 240h1v2h-1zM746 240h1v2h-1zM747 239h1v2h-1zM748 239h1v2h-1zM749 239h1v2h-1zM750 239h1v2h-1zM751 239h1v2h-1zM752 239h1v2h-1zM753 239h1v2h-1zM754 238h1v2h-1zM755 238h1v2h-1zM756 238h1v2h-1zM757 238h1v2h-1zM758 238h1v2h-1zM759 238h1v2h-1zM760 237h1v2h-1zM761 237h1v2h-1zM762 237h1v2h-1zM763 237h1v2h-1zM764 237h1v2h-1zM765 237h1v2h-1zM766 236h1v2h-1zM767 236h1v2h-1zM768 236h1v2h-1zM769 236h1v2h-1zM770 236h1v2h-1zM771 236h1v2h-1zM772 236h1v2h-1zM773 235h1v2h-1zM774 235h1v2h-1zM775 235h1v2h-1zM776 235h1v2h-1zM777 235h1v2h-1zM778 235h1v2h-1zM779 234h1v2h-1zM780 234h1v2h-1zM781 234h1v2h-1zM782 234h1v2h-1zM783 234h1v2h-1zM784 234h1v2h-1zM785 233h1v2h-1zM786 233h1v2h-1zM787 233h1v2h-1zM788 233h1v2h-1zM789 233h1v2h-1zM790 233h1v2h-1zM791 232h1v2h-1zM792 232h1v2h-1zM793 232h1v2h-1zM794 232h1v2h-1zM795 232h1v2h-1zM796 232h1v2h-1zM797 232h1v2h-1zM798 231h1v2h-1zM799 231h1v2h-1zM800 231h1v2h-1zM801 231h1v2h-1zM802 231h1v2h-1zM803 231h1v2h-1zM804 230h1v2h-1zM805 230h1v2h-1zM806 230h1v2h-1zM807 230h1v2h-1zM808 230h1v2h-1zM809 230h1v2h-1zM810 229h1v2h-1zM811 229h1v2h-1zM812 229h1v2h-1zM813 229h1v2h-1zM814 229h1v2h-1zM815 229h1v2h-1zM816 229h1v2h-1zM817 228h1v2h-1zM818 228h1v2h-1zM819 228h1v2h-1zM820 228h1v2h-1zM821 228h1v2h-1zM822 228h1v2h-1zM823 227h1v2h-1zM824 227h1v2h-1zM825 227h1v2h-1zM826 227h1v2h-1zM827 227h1v2h-1zM828 227h1v2h-1zM829 226h1v2h-1zM830 226h1v2h-1zM831 226h1v2h-1zM832 226h1v2h-1zM833 226h1v2h-1zM834 226h1v2h-1zM835 226h1v2h-1zM836 225h1v2h-1zM837 225h1v2h-1zM838 225h1v2h-1zM839 225h1v2h-1zM840 225h1v2h-1zM841 225h1v2h-1zM842 224h1v2h-1zM843 224h1v2h-1zM844 224h1v2h-1zM845 224h1v2h-1zM846 224h1v2h-1zM847 224h1v2h-1z" fill="#ff0000" shape-rendering="crispEdges"/>
<path d="M86 492h1v2h-1zM87 492h1v2h-1zM88 492h1v2h-1zM89 492h1v2h-1zM90 492h1v2h-1zM91 492h1v2h-1zM92 491h1v2h-1zM93 491h1v2h-1zM94 491h1v2h-1zM95 491h1v2h-1zM96 491h1v2h-1zM97 491h1v2h-1zM98 490h1v2h-1zM99 490h1v2h-1zM100 490h1v2h-1zM101 490h1v2h-1zM102 490h1v2h-1zM103 490h1v2h-1zM104 490h1v2h-1zM105 489h1v2h-1zM106 489h1v2h-1zM107 489h1v2h-1zM108 489h1v2h-1zM109 489h1v2h-1zM110 489h1v2h-1zM111 488h1v2h-1zM112 488h1v2h-1zM113 488h1v2h-1zM114 488h1v2h-1zM115 488h1v2h-1zM116 488h1v2h-1zM117 487h1v2h-1zM118 487h1v2h-1zM119 487h1v2h-1zM120 487h1v2h-1zM121 487h1v2h-1zM122 487h1v2h-1zM123 487h1v2h-1zM124 486h1v2h-1zM125 486h1v2h-1zM126 486h1v2h-1zM127 486h1v2h-1zM128 486h1v2h-1zM129 486h1v2h-1zM130 485h1v2h-1zM131 485h1v2h-1zM132 485h1v2h-1zM133 485h1v2h-1zM134 485h1v2h-1zM135 485h1v2h-1zM136 484h1v2h-1zM137 484h1v2h-1zM138 484h1v2h-1zM139 484h1v2h-1zM140 484h1v2h-1zM141 484h1v2h-1zM142 484h1v2h-1zM143 483h1v2h-1zM144 483h1v2h-1zM145 483h1v2h-1zM146 483h1v2h-1zM147 483h1v2h-1zM148 483h1v2h-1zM149 482h1v2h-1zM150 482h1v2h-1zM151 482h1v2h-1zM152 482h1v2h-1zM153 482h1v2h-1zM154 482h1v2h-1zM155 481h1v2h-1zM156 481h1v2h-1zM157 481h1v2h-1zM158 481h1v2h-1zM159 481h1v2h-1zM160 481h1v2h-1zM161 480h1v2h-1zM162 480h1v2h-1zM163 480h1v2h-1zM164 480h1v2h-1zM165 480h1v2h-1zM166 480h1v2h-1zM167 480h1v2h-1zM168 479h1v2h-1zM169 479h1v2h-1zM170 479h1v2h-1zM171 479h1v2h-1zM172 479h1v2h-1zM173 479h1v2h-1zM174 478h1v2h-1zM175 478h1v2h-1zM176 478h1v2h-1zM177 478h1v2h-1zM178 478h1v2h-1zM179 478h1v2h-1zM180 477h1v2h-1zM181 477h1v2h-1zM182 477h1v2h-1zM183 477h1v2h-1zM184 477h1v2h-1zM185 477h1v2h-1zM186 477h1v2h-1zM187 476h1v2h-1zM188 476h1v2h-1zM189 476h1v2h-1zM190 476h1v2h-1zM191 476h1v2h-1zM192 476h1v2h-1zM193 475h1v2h-1zM194 475h1v2h-1zM195 475h1v2h-1zM196 475h1v2h-1zM197 475h1v2h-1zM198 475h1v2h-1zM199 474h1v2h-1zM200 474h1v2h-1zM201 474h1v2h-1zM202 474h1v2h-1zM203 474h1v2h-1zM204 474h1v2h-1zM205 474h1v2h-1zM206 473h1v2h-1zM207 473h1v2h-1zM208 473h1v2h-1zM209 473h1v2h-1zM210 473h1v2h-1zM211 473h1v2h-1zM212 472h1v2h-1zM213 472h1v2h-1zM214 472h1v2h-1zM215 472h1v2h-1zM216 472h1v2h-1zM217 472h1v2h-1zM218 471h1v2h-1zM219 471h1v2h-1zM220 471h1v2h-1zM221 471h1v2h-1zM222 471h1v2h-1zM223 471h1v2h-1zM224 470h1v2h-1zM225 470h1v2h-1zM226 470h1v2h-1zM227 470h1v2h-1zM228 470h1v2h-1zM229 470h1v2h-1zM230 470h1v2h-1zM231 469h1v2h-1zM232 469h1v2h-1zM233 469h1v2h-1zM234 469h1v2h-1zM235 469h1v2h-1zM236 469h1v2h-1zM237 468h1v2h-1zM238 468h1v2h-1zM239 468h1v2h-1zM240 468h1v2h-1zM241 468h1v2h-1zM242 468h1v2h-1zM243 467h1v2h-1zM244 467h1v2h-1zM245 467h1v2h-1zM246 467h1v2h-1zM247 467h1v2h-1zM248 467h1v2h-1zM249 467h1v2h-1zM250 466h1v2h-1zM251 466h1v2h-1zM252 466h1v2h-1zM253 466h1v2h-1zM254 466h1v2h-1zM255 466h1v2h-1zM256 465h1v2h-1zM257 465h1v2h-1zM258 465h1v2h-1zM259 465h1v2h-1zM260 465h1v2h-1zM261 465h1v2h-1zM262 464h1v2h-1zM263 464h1v2h-1zM264 464h1v2h-1zM265 464h1v2h-1zM266 464h1v2h-1zM267 464h1v2h-1zM268 464h1v2h-1zM269 463h1v2h-1zM270 463h1v2h-1zM271 463h1v2h-1zM272 463h1v2h-1zM273 463h1v2h-1zM274 463h1v2h-1zM275 462h1v2h-1zM276 462h1v2h-1zM277 462h1v2h-1zM278 462h1v2h-1zM279 462h1v2h-1zM280 462h1v2h-1zM281 461h1v2h-1zM282 461h1v2h-1zM283 461h1v2h-1zM284 461h1v2h-1zM285 461h1v2h-1zM286 461h1v2h-1zM287 460h1v2h-1zM288 460h1v2h-1zM289 460h1v2h-1zM290 460h1v2h-1zM291 460h1v2h-1zM292 460h1v2h-1zM293 460h1v2h-1zM294 459h1v2h-1zM295 459h1v2h-1zM296 459h1v2h-1zM297 459h1v2h-1zM298 459h1v2h-1zM299 459h1v2h-1zM300 458h1v2h-1zM301 458h1v2h-1zM302 458h1v2h-1zM303 458h1v2h-1zM304 458h1v2h-1zM305 458h1v2h-1zM306 457h1v2h-1zM307 457h1v2h-1zM308 457h1v2h-1zM309 457h1v2h-1zM310 457h1v2h-1zM311 457h1v2h-1zM312 457h1v2h-1zM313 456h1v2h-1zM314 456h1v2h-1zM315 456h1v2h-1zM316 456h1v2h-1zM317 456h1v2h-1zM318 456h1v2h-1zM319 455h1v2h-1zM320 455h1v2h-1zM321 455h1v2h-1zM322 455h1v2h-1zM323 455h1v2h-1zM324 455h1v2h-1zM325 454h1v2h-1zM326 454h1v2h-1zM327 454h1v2h-1zM328 454h1v2h-1zM329 454h1v2h-1zM330 454h1v2h-1zM331 454h1v2h-1zM332 453h1v2h-1zM333 453h1v2h-1zM334 453h1v2h-1zM335 453h1v2h-1zM336 453h1v2h-1zM337 453h1v2h-1zM338 452h1v2h-1zM339 452h1v2h-1zM340 452h1v2h-1zM341 452h1v2h-1zM342 452h1v2h-1zM343 452h1v2h-1zM344 451h1v2h-1zM345 451h1v2h-1zM346 451h1v2h-1zM347 451h1v2h-1zM348 451h1v2h-1zM349 451h1v2h-1zM350 450h1v2h-1zM351 450h1v2h-1zM352 450h1v2h-1zM353 450h1v2h-1zM354 450h1v2h-1zM355 450h1v2h-1zM356 450h1v2h-1zM357 449h1v2h-1zM358 449h1v2h-1zM359 449h1v2h-1zM360 449h1v2h-1zM361 449h1v2h-1zM362 449h1v2h-1zM363 448h1v2h-1zM364 448h1v2h-1zM365 448h1v2h-1zM366 448h1v2h-1zM367 448h1v2h-1zM368 448h1v2h-1zM369 447h1v2h-1zM370 447h1v2h-1zM371 447h1v2h-1zM372 447h1v2h-1zM373 447h1v2h-1zM374 447h1v2h-1zM375 447h1v2h-1zM376 446h1v2h-1zM377 446h1v2h-1zM378 446h1v2h-1zM379 446h1v2h-1zM380 446h1v2h-1zM381 446h1v2h-1zM382 445h1v2h-1zM383 445h1v2h-1zM384 445h1v2h-1zM385 445h1v2h-1zM386 445h1v2h-1zM387 445h1v2h-1zM388 444h1v2h-1zM389 444h1v2h-1zM390 444h1v2h-1zM391 444h1v2h-1zM392 444h1v2h-1zM393 444h1v2h-1zM394 444h1v2h-1zM395 443h1v2h-1zM396 443h1v2h-1zM397 443h1v2h-1zM398 443h1v2h-1zM399 443h1v2h-1zM400 443h1v2h-1zM401 442h1v2h-1zM402 442h1v2h-1zM403 442h1v2h-1zM404 442h1v2h-1zM405 442h1v2h-1zM406 442h1v2h-1zM407 441h1v2h-1zM408 441h1v2h-1zM409 441h1v2h-1zM410 441h1v2h-1zM411 441h1v2h-1zM412 441h1v2h-1zM413 440h1v2h-1zM414 440h1v2h-1zM415 440h1v2h-1zM416 440h1v2h-1zM417 440h1v2h-1zM418 440h1v2h-1zM419 440h1v2h-1zM420 439h1v2h-1zM421 439h1v2h-1zM422 439h1v2h-1zM423 439h1v2h-1zM424 439h1v2h-1zM425 439h1v2h-1zM426 438h1v2h-1zM427 438h1v2h-1zM428 438h1v2h-1zM429 438h1v2h-1zM430 438h1v2h-1zM431 438h1v2h-1zM432 437h1v2h-1zM433 437h1v2h-1zM434 437h1v2h-1zM435 437h1v2h-1zM436 437h1v2h-1zM437 437h1v2h-1zM438 437h1v2h-1zM439 436h1v2h-1zM440 436h1v2h-1zM441 436h1v2h-1zM442 436h1v2h-1zM443 436h1v2h-1zM444 436h1v2h-1zM445 435h1v2h-1zM446 435h1v2h-1zM447 435h1v2h-1zM448 435h1v2h-1zM449 435h1v2h-1zM450 435h1v2h-1zM451 434h1v2h-1zM452 434h1v2h-1zM453 434h1v2h-1zM454 434h1v2h-1zM455 434h1v2h-1zM456 434h1v2h-1zM457 434h1v2h-1zM458 433h1v2h-1zM459 433h1v2h-1zM460 433h1v2h-1zM461 433h1v2h-1zM462 433h1v2h-1zM463 433h1v2h-1zM464 432h1v2h-1zM465 432h1v2h-1zM466 432h1v2h-1zM467 432h1v2h-1zM468 432h1v2h-1zM469 432h1v2h-1zM470 431h1v2h-1zM471 431h1v2h-1zM472 431h1v2h-1zM473 431h1v2h-1zM474 431h1v2h-1zM475 431h1v2h-1zM476 430h1v2h-1zM477 430h1v2h-1zM478 430h1v2h-1zM479 430h1v2h-1zM480 430h1v2h-1zM481 430h1v2h-1zM482 430h1v2h-1zM483 429h1v2h-1zM484 429h1v2h-1zM485 429h1v2h-1zM486 429h1v2h-1zM487 429h1v2h-1zM488 429h1v2h-1zM489 428h1v2h-1zM490 428h1v2h-1zM491 428h1v2h-1zM492 428h1v2h-1zM493 428h1v2h-1zM494 428h1v2h-1zM495 427h1v2h-1zM496 427h1v2h-1zM497 427h1v2h-1zM498 427h1v2h-1zM499 427h1v2h-1zM500 427h1v2h-1zM501 427h1v2h-1zM502 426h1v2h-1zM503 426h1v2h-1zM504 426h1v2h-1zM505 426h1v2h-1zM506 426h1v2h-1zM507 426h1v2h-1zM508 425h1v2h-1zM509 425h1v2h-1zM510 425h1v2h-1zM511 425h1v2h-1zM512 425h1v2h-1zM513 425h1v2h-1zM514 424h1v2h-1zM515 424h1v2h-1zM516 424h1v2h-1zM517 424h1v2h-1zM518 424h1v2h-1zM519 424h1v2h-1zM520 424h1v2h-1zM521 423h1v2h-1zM522 423h1v2h-1zM523 423h1v2h-1zM524 423h1v2h-1zM525 423h1v2h-1zM526 423h1v2h-1zM527 422h1v2h-1zM528 422h1v2h-1zM529 422h1v2h-1zM530 422h1v2h-1zM531 422h1v2h-1zM532 422h1v2h-1zM533 421h1v2h-1zM534 421h1v2h-1zM535 421h1v2h-1zM536 421h1v2h-1zM537 421h1v2h-1zM538 421h1v2h-1zM539 420h1v2h-1zM540 420h1v2h-1zM541 420h1v2h-1zM542 420h1v2h-1zM543 420h1v2h-1zM544 420h1v2h-1zM545 420h1v2h-1zM546 419h1v2h-1zM547 419h1v2h-1zM548 419h1v2h-1zM549 419h1v2h-1zM550 419h1v2h-1zM551 419h1v2h-1zM552 418h1v2h-1zM553 418h1v2h-1zM554 418h1v2h-1zM555 418h1v2h-1zM556 418h1v2h-1zM557 418h1v2h-1zM558 417h1v2h-1zM559 417h1v2h-1zM560 417h1v2h-1zM561 417h1v2h-1zM562 417h1v2h-1zM563 417h1v2h-1zM564 417h1v2h-1zM565 416h1v2h-1zM566 416h1v2h-1zM567 416h1v2h-1zM568 416h1v2h-1zM569 416h1v2h-1zM570 416h1v2h-1zM571 415h1v2h-1zM572 415h1v2h-1zM573 415h1v2h-1zM574 415h1v2h-1zM575 415h1v2h-1zM576 415h1v2h-1zM577 414h1v2h-1zM578 414h1v2h-1zM579 414h1v2h-1zM580 414h1v2h-1zM581 414h1v2h-1zM582 414h1v2h-1zM583 414h1v2h-1zM584 413h1v2h-1zM585 413h1v2h-1zM586 413h1v2h-1zM587 413h1v2h-1zM588 413h1v2h-1zM589 413h1v2h-1zM590 412h1v2h-1zM591 412h1v2h-1zM592 412h1v2h-1zM593 412h1v2h-1zM594 412h1v2h-1zM595 412h1v2h-1zM596 411h1v2h-1zM597 411h1v2h-1zM598 411h1v2h-1zM599 411h1v2h-1zM600 411h1v2h-1zM601 411h1v2h-1zM602 410h1v2h-1zM603 410h1v2h-1zM604 410h1v2h-1zM605 410h1v2h-1zM606 410h1v2h-1zM607 410h1v2h-1zM608 410h1v2h-1zM609 409h1v2h-1zM610 409h1v2h-1zM611 409h1v2h-1zM612 409h1v2h-1zM613 409h1v2h-1zM614 409h1v2h-1zM615 408h1v2h-1zM616 408h1v2h-1zM617 408h1v2h-1zM618 408h1v2h-1zM619 408h1v2h-1zM620 408h1v2h-1zM621 407h1v2h-1zM622 407h1v2h-1zM623 407h1v2h-1zM624 407h1v2h-1zM625 407h1v2h-1zM626 407h1v2h-1zM627 407h1v2h-1zM628 406h1v2h-1zM629 406h1v2h-1zM630 406h1v2h-1zM631 406h1v2h-1zM632 406h1v2h-1zM633 406h1v2h-1zM634 405h1v2h-1zM635 405h1v2h-1zM636 405h1v2h-1zM637 405h1v2h-1zM638 405h1v2h-1zM639 405h1v2h-1zM640 404h1v2h-1zM641 404h1v2h-1zM642 404h1v2h-1zM643 404h1v2h-1zM644 404h1v2h-1zM645 404h1v2h-1zM646 404h1v2h-1zM647 403h1v2h-1zM648 403h1v2h-1zM649 403h1v2h-1zM650 403h1v2h-1zM651 403h1v2h-1zM652 403h1v2h-1zM653 402h1v2h-1zM654 402h1v2h-1zM655 402h1v2h-1zM656 402h1v2h-1zM657 402h1v2h-1zM658 402h1v2h-1zM659 401h1v2h-1zM660 401h1v2h-1zM661 401h1v2h-1zM662 401h1v2h-1zM663 401h1v2h-1zM664 401h1v2h-1zM665 400h1v2h-1zM666 400h1v2h-1zM667 400h1v2h-1zM668 400h1v2h-1zM669 400h1v2h-1zM670 400h1v2h-1zM671 400h1v2h-1zM672 399h1v2h-1zM673 399h1v2h-1zM674 399h1v2h-1zM675 399h1v2h-1zM676 399h1v2h-1zM677 399h1v2h-1zM678 398h1v2h-1zM679 398h1v2h-1zM680 398h1v2h-1zM681 398h1v2h-1zM682 398h1v2h-1zM683 398h1v2h-1zM684 397h1v2h-1zM685 397h1v2h-1zM686 397h1v2h-1zM687 397h1v2h-1zM688 397h1v2h-1zM689 397h1v2h-1zM690 397h1v2h-1zM691 396h1v2h-1zM692 396h1v2h-1zM693 396h1v2h-1zM694 396h1v2h-1zM695 396h1v2h-1zM696 396h1v2h-1zM697 395h1v2h-1zM698 395h1v2h-1zM699 395h1v2h-1zM700 395h1v2h-1zM701 395h1v2h-1zM702 395h1v2h-1zM703 394h1v2h-1zM704 394h1v2h-1zM705 394h1v2h-1zM706 394h1v2h-1zM707 394h1v2h-1zM708 394h1v2h-1zM709 394h1v2h-1zM710 393h1v2h-1zM711 393h1v2h-1zM712 393h1v2h-1zM713 393h1v2h-1zM714 393h1v2h-1zM715 393h1v2h-1zM716 392h1v2h-1zM717 392h1v2h-1zM718 392h1v2h-1zM719 392h1v2h-1zM720 392h1v2h-1zM721 392h1v2h-1zM722 391h1v2h-1zM723 391h1v2h-1zM724 391h1v2h-1zM725 391h1v2h-1zM726 391h1v2h-1zM727 391h1v2h-1zM728 390h1v2h-1zM729 390h1v2h-1zM730 390h1v2h-1zM731 390h1v2h-1zM732 390h1v2h-1zM733 390h1v2h-1zM734 390h1v2h-1zM735 389h1v2h-1zM736 389h1v2h-1zM737 389h1v2h-1zM738 389h1v2h-1zM739 389h1v2h-1zM740 389h1v2h-1zM741 388h1v2h-1zM742 388h1v2h-1zM743 388h1v2h-1zM744 388h1v2h-1zM745 388h1v2h-1zM746 388h1v2h-1zM747 387h1v2h-1zM748 387h1v2h-1zM749 387h1v2h-1zM750 387h1v2h-1zM751 387h1v2h-1zM752 387h1v2h-1zM753 387h1v2h-1zM754 386h1v2h-1zM755 386h1v2h-1zM756 386h1v2h-1zM757 386h1v2h-1zM758 386h1v2h-1zM759 386h1v2h-1zM760 385h1v2h-1zM761 385h1v2h-1zM762 385h1v2h-1zM763 385h1v2h-1zM764 385h1v2h-1zM765 385h1v2h-1zM766 384h1v2h-1zM767 384h1v2h-1zM768 384h1v2h-1zM769 384h1v2h-1zM770 384h1v2h-1zM771 384h1v2h-1zM772 384h1v2h-1zM773 383h1v2h-1zM774 383h1v2h-1zM775 383h1v2h-1zM776 383h1v2h-1zM777 383h1v2h-1zM778 383h1v2h-1zM779 382h1v2h-1zM780 382h1v2h-1zM781 382h1v2h-1zM782 382h1v2h-1zM783 382h1v2h-1zM784 382h1v2h-1zM785 381h1v2h-1zM786 381h1v2h-1zM787 381h1v2h-1zM788 381h1v2h-1zM789 381h1v2h-1zM790 381h1v2h-1zM791 380h1v2h-1zM792 380h1v2h-1zM793 380h1v2h-1zM794 380h1v2h-1zM795 380h1v2h-1zM796 380h1v2h-1zM797 380h1v2h-1zM798 379h1v2h-1zM799 379h1v2h-1zM800 379h1v2h-1zM801 379h1v2h-1zM802 379h1v2h-1zM803 379h1v2h-1zM804 378h1v2h-1zM805 378h1v2h-1zM806 378h1v2h-1zM807 378h1v2h-1zM808 378h1v2h-1zM809 378h1v2h-1zM810 377h1v2h-1zM811 377h1v2h-1zM812 377h1v2h-1zM813 377h1v2h-1zM814 377h1v2h-1zM815 377h1v2h-1zM816 377h1v2h-1zM817 376h1v2h-1zM818 376h1v2h-1zM819 376h1v2h-1zM820 376h1v2h-1zM821 376h1v2h-1zM822 376h1v2h-1zM823 375h1v2h-1zM824 375h1v2h-1zM825 375h1v2h-1zM826 375h1v2h-1zM827 375h1v2h-1zM828 375h1v2h-1zM829 374h1v2h-1zM830 374h1v2h-1zM831 374h1v2h-1zM832 374h1v2h-1zM833 374h1v2h-1zM834 374h1v2h-1zM835 374h1v2h-1zM836 373h1v2h-1zM837 373h1v2h-1zM838 373h1v2h-1zM839 373h1v2h-1zM840 373h1v2h-1zM841 373h1v2h-1zM842 372h1v2h-1zM843 372h1v2h-1zM844 372h1v2h-1zM845 372h1v2h-1zM846 372h1v2h-1zM847 372h1v2h-1z" fill="#ff0000" shape-rendering="crispEdges"/>
<g shape-rendering="crispEdges" stroke="#000"><line x1="130" y1="106.5" x2="137" y2="106.5"/><line x1="132.5" y1="104" x2="132.5" y2="110"/></g>
<g shape-rendering="crispEdges">
<rect x="90" y="808" width="1" height="40" fill="#d3443f"/>
<rect x="97" y="802" width="1" height="46" fill="#d3443f"/>
<rect x="104" y="799" width="1" height="49" fill="#d3443f"/>
<rect x="111" y="773" width="1" height="75" fill="#d3443f"/>
<rect x="118" y="774" width="1" height="74" fill="#d3443f"/>
<rect x="125" y="757" width="1" height="91" fill="#d3443f"/>
<rect x="132" y="772" width="1" height="76" fill="#d3443f"/>
<rect x="139" y="816" width="1" height="32" fill="#d3443f"/>
<rect x="146" y="831" width="1" height="17" fill="#d3443f"/>
<rect x="153" y="847" width="1" height="7" fill="#5ea65a"/>
<rect x="160" y="847" width="1" height="15" fill="#5ea65a"/>
<rect x="167" y="847" width="1" height="30" fill="#5ea65a"/>
<rect x="174" y="847" width="1" height="47" fill="#5ea65a"/>
<rect x="181" y="847" width="1" height="69" fill="#5ea65a"/>
<rect x="188" y="847" width="1" height="77" fill="#5ea65a"/>
<rect x="195" y="847" width="1" height="53" fill="#5ea65a"/>
<rect x="202" y="847" width="1" height="11" fill="#5ea65a"/>
<rect x="209" y="847" width="1" height="9" fill="#5ea65a"/>
<rect x="216" y="847" width="1" height="25" fill="#5ea65a"/>
<rect x="223" y="847" width="1" height="28" fill="#5ea65a"/>
<rect x="230" y="847" width="1" height="54" fill="#5ea65a"/>
<rect x="237" y="847" width="1" height="60" fill="#5ea65a"/>
<rect x="244" y="847" width="1" height="78" fill="#5ea65a"/>
<rect x="251" y="847" width="1" height="67" fill="#5ea65a"/>
<rect x="258" y="847" width="1" height="65" fill="#5ea65a"/>
<rect x="265" y="847" width="1" height="50" fill="#5ea65a"/>
<rect x="272" y="847" width="1" height="21" fill="#5ea65a"/>
<rect x="279" y="843" width="1" height="5" fill="#d3443f"/>
<rect x="286" y="836" width="1" height="12" fill="#d3443f"/>
<rect x="293" y="815" width="1" height="33" fill="#d3443f"/>
<rect x="300" y="812" width="1" height="36" fill="#d3443f"/>
<rect x="307" y="824" width="1" height="24" fill="#d3443f"/>
<rect x="314" y="837" width="1" height="11" fill="#d3443f"/>
<rect x="321" y="837" width="1" height="11" fill="#d3443f"/>
<rect x="328" y="846" width="1" height="2" fill="#d3443f"/>
<rect x="335" y="827" width="1" height="21" fill="#d3443f"/>
<rect x="342" y="826" width="1" height="22" fill="#d3443f"/>
<rect x="349" y="824" width="1" height="24" fill="#d3443f"/>
<rect x="356" y="831" width="1" height="17" fill="#d3443f"/>
<rect x="363" y="847" width="1" height="2" fill="#5ea65a"/>
<rect x="370" y="847" width="1" height="8" fill="#5ea65a"/>
<rect x="377" y="847" width="1" height="12" fill="#5ea65a"/>
<rect x="384" y="847" width="1" height="6" fill="#5ea65a"/>
<rect x="391" y="840" width="1" height="8" fill="#d3443f"/>
<rect x="398" y="823" width="1" height="25" fill="#d3443f"/>
<rect x="405" y="830" width="1" height="18" fill="#d3443f"/>
<rect x="412" y="835" width="1" height="13" fill="#d3443f"/>
<rect x="419" y="846" width="1" height="2" fill="#d3443f"/>
<rect x="426" y="847" width="1" height="6" fill="#5ea65a"/>
<rect x="433" y="847" width="1" height="11" fill="#5ea65a"/>
<rect x="440" y="847" width="1" height="12" fill="#5ea65a"/>
<rect x="447" y="847" width="1" height="27" fill="#5ea65a"/>
<rect x="454" y="847" width="1" height="30" fill="#5ea65a"/>
<rect x="461" y="847" width="1" height="30" fill="#5ea65a"/>
<rect x="468" y="847" width="1" height="43" fill="#5ea65a"/>
<rect x="475" y="847" width="1" height="39" fill="#5ea65a"/>
<rect x="482" y="847" width="1" height="23" fill="#5ea65a"/>
<rect x="489" y="847" width="1" height="7" fill="#5ea65a"/>
<rect x="496" y="847" width="1" height="6" fill="#5ea65a"/>
<rect x="503" y="847" width="1" height="3" fill="#5ea65a"/>
<rect x="510" y="846" width="1" height="2" fill="#d3443f"/>
<rect x="517" y="847" width="1" height="7" fill="#5ea65a"/>
<rect x="524" y="847" width="1" height="7" fill="#5ea65a"/>
<rect x="531" y="847" width="1" height="4" fill="#5ea65a"/>
<rect x="538" y="838" width="1" height="10" fill="#d3443f"/>
<rect x="545" y="836" width="1" height="12" fill="#d3443f"/>
<rect x="552" y="841" width="1" height="7" fill="#d3443f"/>
<rect x="559" y="838" width="1" height="10" fill="#d3443f"/>
<rect x="566" y="839" width="1" height="9" fill="#d3443f"/>
<rect x="573" y="837" width="1" height="11" fill="#d3443f"/>
<rect x="580" y="824" width="1" height="24" fill="#d3443f"/>
<rect x="587" y="810" width="1" height="38" fill="#d3443f"/>
<rect x="594" y="819" width="1" height="29" fill="#d3443f"/>
<rect x="601" y="831" width="1" height="17" fill="#d3443f"/>
<rect x="608" y="847" width="1" height="2" fill="#5ea65a"/>
<rect x="615" y="847" width="1" height="18" fill="#5ea65a"/>
<rect x="622" y="847" width="1" height="22" fill="#5ea65a"/>
<rect x="629" y="847" width="1" height="36" fill="#5ea65a"/>
<rect x="636" y="847" width="1" height="37" fill="#5ea65a"/>
<rect x="643" y="847" width="1" height="14" fill="#5ea65a"/>
<rect x="650" y="844" width="1" height="4" fill="#d3443f"/>
<rect x="657" y="833" width="1" height="15" fill="#d3443f"/>
<rect x="664" y="832" width="1" height="16" fill="#d3443f"/>
<rect x="671" y="825" width="1" height="23" fill="#d3443f"/>
<rect x="678" y="823" width="1" height="25" fill="#d3443f"/>
<rect x="685" y="840" width="1" height="8" fill="#d3443f"/>
<rect x="692" y="847" width="1" height="2" fill="#5ea65a"/>
<rect x="699" y="847" width="1" height="4" fill="#5ea65a"/>
<rect x="706" y="847" width="1" height="11" fill="#5ea65a"/>
<rect x="713" y="847" width="1" height="14" fill="#5ea65a"/>
<rect x="720" y="847" width="1" height="11" fill="#5ea65a"/>
</g>
<path d="M90 815h1v1h-1zM91 814h1v1h-1zM92 813h1v1h-1zM93 812h1v1h-1zM94 811h1v1h-1zM95 810h1v1h-1zM96 810h1v1h-1zM97 809h1v1h-1zM98 808h1v1h-1zM99 807h1v1h-1zM100 806h1v1h-1zM101 806h1v1h-1zM102 805h1v1h-1zM103 804h1v1h-1zM104 803h1v1h-1zM105 802h1v1h-1zM106 800h1v2h-1zM107 799h1v1h-1zM108 798h1v1h-1zM109 797h1v1h-1zM110 795h1v2h-1zM111 794h1v1h-1zM112 793h1v1h-1zM113 791h1v2h-1zM114 790h1v1h-1zM115 789h1v1h-1zM116 788h1v1h-1zM117 786h1v2h-1zM118 785h1v1h-1zM119 783h1v2h-1zM120 781h1v2h-1zM121 779h1v2h-1zM122 778h1v1h-1zM123 776h1v2h-1zM124 774h1v2h-1zM125 773h1v1h-1zM126 772h1v1h-1zM127 771h1v1h-1zM128 770h1v1h-1zM129 768h1v2h-1zM130 767h1v1h-1zM131 766h1v1h-1zM132 765h1v1h-1zM133 764h1v1h-1zM134 764h1v1h-1zM135 763h1v1h-1zM136 762h1v1h-1zM137 762h1v1h-1zM138 761h1v1h-1zM139 761h1v1h-1zM140 760h1v1h-1zM141 760h1v1h-1zM142 760h1v1h-1zM143 760h1v1h-1zM144 759h1v1h-1zM145 759h1v1h-1zM146 759h1v1h-1zM147 759h1v1h-1zM148 759h1v1h-1zM149 759h1v1h-1zM150 760h1v1h-1zM151 760h1v1h-1zM152 760h1v1h-1zM153 760h1v1h-1zM154 760h1v1h-1zM155 761h1v1h-1zM156 761h1v1h-1zM157 761h1v1h-1zM158 762h1v1h-1zM159 762h1v1h-1zM160 762h1v1h-1zM161 763h1v1h-1zM162 763h1v1h-1zM163 764h1v1h-1zM164 765h1v1h-1zM165 765h1v1h-1zM166 766h1v1h-1zM167 767h1v1h-1zM168 767h1v1h-1zM169 768h1v1h-1zM170 769h1v1h-1zM171 770h1v1h-1zM172 771h1v1h-1zM173 772h1v1h-1zM174 772h1v2h-1zM175 774h1v1h-1zM176 775h1v1h-1zM177 776h1v1h-1zM178 777h1v1h-1zM179 778h1v1h-1zM180 779h1v1h-1zM181 780h1v1h-1zM182 781h1v1h-1zM183 782h1v1h-1zM184 783h1v1h-1zM185 784h1v1h-1zM186 785h1v1h-1zM187 786h1v2h-1zM188 788h1v1h-1zM189 788h1v1h-1zM190 789h1v1h-1zM191 790h1v1h-1zM192 791h1v1h-1zM193 792h1v1h-1zM194 793h1v1h-1zM195 794h1v1h-1zM196 794h1v1h-1zM197 795h1v1h-1zM198 795h1v1h-1zM199 795h1v1h-1zM200 796h1v1h-1zM201 796h1v1h-1zM202 797h1v1h-1zM203 797h1v1h-1zM204 797h1v1h-1zM205 797h1v1h-1zM206 797h1v1h-1zM207 798h1v1h-1zM208 798h1v1h-1zM209 798h1v1h-1zM210 799h1v1h-1zM211 799h1v1h-1zM212 799h1v1h-1zM213 800h1v1h-1zM214 800h1v1h-1zM215 801h1v1h-1zM216 801h1v1h-1zM217 801h1v1h-1zM218 802h1v1h-1zM219 802h1v1h-1zM220 803h1v1h-1zM221 803h1v1h-1zM222 804h1v1h-1zM223 804h1v2h-1zM224 806h1v1h-1zM225 807h1v1h-1zM226 808h1v1h-1zM227 809h1v1h-1zM228 810h1v1h-1zM229 811h1v1h-1zM230 812h1v1h-1zM231 813h1v2h-1zM232 815h1v1h-1zM233 816h1v1h-1zM234 817h1v1h-1zM235 818h1v1h-1zM236 819h1v1h-1zM237 820h1v1h-1zM238 821h1v2h-1zM239 823h1v1h-1zM240 824h1v1h-1zM241 825h1v1h-1zM242 826h1v1h-1zM243 827h1v2h-1zM244 829h1v1h-1zM245 830h1v1h-1zM246 831h1v1h-1zM247 832h1v1h-1zM248 833h1v2h-1zM249 835h1v1h-1zM250 836h1v1h-1zM251 837h1v1h-1zM252 838h1v1h-1zM253 839h1v1h-1zM254 840h1v1h-1zM255 841h1v2h-1zM256 843h1v1h-1zM257 844h1v1h-1zM258 845h1v1h-1zM259 846h1v1h-1zM260 846h1v1h-1zM261 847h1v1h-1zM262 848h1v1h-1zM263 849h1v1h-1zM264 849h1v1h-1zM265 850h1v1h-1zM266 850h1v1h-1zM267 851h1v1h-1zM268 851h1v1h-1zM269 852h1v1h-1zM270 852h1v1h-1zM271 852h1v1h-1zM272 853h1v1h-1zM273 853h1v1h-1zM274 853h1v1h-1zM275 853h1v1h-1zM276 852h1v1h-1zM277 852h1v1h-1zM278 852h1v1h-1zM279 852h1v1h-1zM280 852h1v1h-1zM281 852h1v1h-1zM282 851h1v1h-1zM283 851h1v1h-1zM284 851h1v1h-1zM285 851h1v1h-1zM286 850h1v1h-1zM287 850h1v1h-1zM288 849h1v1h-1zM289 849h1v1h-1zM290 849h1v1h-1zM291 848h1v1h-1zM292 848h1v1h-1zM293 847h1v1h-1zM294 847h1v1h-1zM295 846h1v1h-1zM296 846h1v1h-1zM297 845h1v1h-1zM298 845h1v1h-1zM299 844h1v1h-1zM300 844h1v1h-1zM301 843h1v1h-1zM302 843h1v1h-1zM303 842h1v1h-1zM304 842h1v1h-1zM305 841h1v1h-1zM306 841h1v1h-1zM307 840h1v1h-1zM308 840h1v1h-1zM309 840h1v1h-1zM310 840h1v1h-1zM311 839h1v1h-1zM312 839h1v1h-1zM313 839h1v1h-1zM314 839h1v1h-1zM315 839h1v1h-1zM316 838h1v1h-1zM317 838h1v1h-1zM318 838h1v1h-1zM319 838h1v1h-1zM320 838h1v1h-1zM321 838h1v1h-1zM322 837h1v1h-1zM323 837h1v1h-1zM324 837h1v1h-1zM325 837h1v1h-1zM326 837h1v1h-1zM327 836h1v1h-1zM328 836h1v1h-1zM329 836h1v1h-1zM330 836h1v1h-1zM331 836h1v1h-1zM332 835h1v1h-1zM333 835h1v1h-1zM334 835h1v1h-1zM335 835h1v1h-1zM336 834h1v1h-1zM337 834h1v1h-1zM338 833h1v1h-1zM339 833h1v1h-1zM340 832h1v1h-1zM341 832h1v1h-1zM342 831h1v1h-1zM343 831h1v1h-1zM344 831h1v1h-1zM345 830h1v1h-1zM346 830h1v1h-1zM347 829h1v1h-1zM348 829h1v1h-1zM349 828h1v1h-1zM350 828h1v1h-1zM351 828h1v1h-1zM352 828h1v1h-1zM353 828h1v1h-1zM354 827h1v1h-1zM355 827h1v1h-1zM356 827h1v1h-1zM357 827h1v1h-1zM358 827h1v1h-1zM359 827h1v1h-1zM360 827h1v1h-1zM361 827h1v1h-1zM362 827h1v1h-1zM363 828h1v1h-1zM364 828h1v1h-1zM365 828h1v1h-1zM366 828h1v1h-1zM367 828h1v1h-1zM368 828h1v1h-1zM369 828h1v1h-1zM370 829h1v1h-1zM371 829h1v1h-1zM372 829h1v1h-1zM373 829h1v1h-1zM374 830h1v1h-1zM375 830h1v1h-1zM376 830h1v1h-1zM377 830h1v1h-1zM378 830h1v1h-1zM379 830h1v1h-1zM380 831h1v1h-1zM381 831h1v1h-1zM382 831h1v1h-1zM383 831h1v1h-1zM384 831h1v1h-1zM385 831h1v1h-1zM386 831h1v1h-1zM387 830h1v1h-1zM388 830h1v1h-1zM389 830h1v1h-1zM390 830h1v1h-1zM391 830h1v1h-1zM392 829h1v1h-1zM393 829h1v1h-1zM394 828h1v1h-1zM395 828h1v1h-1zM396 827h1v1h-1zM397 827h1v1h-1zM398 826h1v1h-1zM399 826h1v1h-1zM400 826h1v1h-1zM401 826h1v1h-1zM402 825h1v1h-1zM403 825h1v1h-1zM404 825h1v1h-1zM405 825h1v1h-1zM406 824h1v1h-1zM407 824h1v1h-1zM408 824h1v1h-1zM409 824h1v1h-1zM410 823h1v1h-1zM411 823h1v1h-1zM412 823h1v1h-1zM413 823h1v1h-1zM414 823h1v1h-1zM415 823h1v1h-1zM416 823h1v1h-1zM417 823h1v1h-1zM418 823h1v1h-1zM419 823h1v1h-1zM420 824h1v1h-1zM421 824h1v1h-1zM422 824h1v1h-1zM423 824h1v1h-1zM424 824h1v1h-1zM425 824h1v1h-1zM426 825h1v1h-1zM427 825h1v1h-1zM428 825h1v1h-1zM429 825h1v1h-1zM430 825h1v1h-1zM431 825h1v1h-1zM432 825h1v1h-1zM433 825h1v1h-1zM434 826h1v1h-1zM435 826h1v1h-1zM436 826h1v1h-1zM437 826h1v1h-1zM438 826h1v1h-1zM439 827h1v1h-1zM440 827h1v1h-1zM441 827h1v1h-1zM442 828h1v1h-1zM443 828h1v1h-1zM444 829h1v1h-1zM445 829h1v1h-1zM446 830h1v1h-1zM447 830h1v1h-1zM448 831h1v1h-1zM449 831h1v1h-1zM450 832h1v1h-1zM451 832h1v1h-1zM452 833h1v1h-1zM453 834h1v1h-1zM454 834h1v1h-1zM455 835h1v1h-1zM456 835h1v1h-1zM457 836h1v1h-1zM458 836h1v1h-1zM459 837h1v1h-1zM460 838h1v1h-1zM461 838h1v1h-1zM462 839h1v1h-1zM463 840h1v1h-1zM464 841h1v1h-1zM465 842h1v1h-1zM466 842h1v1h-1zM467 843h1v1h-1zM468 844h1v1h-1zM469 845h1v1h-1zM470 845h1v1h-1zM471 845h1v1h-1zM472 846h1v1h-1zM473 846h1v1h-1zM474 847h1v1h-1zM475 847h1v1h-1zM476 848h1v1h-1zM477 848h1v1h-1zM478 848h1v1h-1zM479 849h1v1h-1zM480 849h1v1h-1zM481 850h1v1h-1zM482 850h1v1h-1zM483 850h1v1h-1zM484 850h1v1h-1zM485 850h1v1h-1zM486 851h1v1h-1zM487 851h1v1h-1zM488 851h1v1h-1zM489 851h1v1h-1zM490 851h1v1h-1zM491 851h1v1h-1zM492 852h1v1h-1zM493 852h1v1h-1zM494 852h1v1h-1zM495 852h1v1h-1zM496 852h1v1h-1zM497 852h1v1h-1zM498 852h1v1h-1zM499 852h1v1h-1zM500 852h1v1h-1zM501 852h1v1h-1zM502 852h1v1h-1zM503 852h1v1h-1zM504 852h1v1h-1zM505 852h1v1h-1zM506 852h1v1h-1zM507 852h1v1h-1zM508 852h1v1h-1zM509 852h1v1h-1zM510 852h1v1h-1zM511 852h1v1h-1zM512 852h1v1h-1zM513 853h1v1h-1zM514 853h1v1h-1zM515 853h1v1h-1zM516 853h1v1h-1zM517 853h1v1h-1zM518 853h1v1h-1zM519 853h1v1h-1zM520 854h1v1h-1zM521 854h1v1h-1zM522 854h1v1h-1zM523 854h1v1h-1zM524 854h1v1h-1zM525 854h1v1h-1zM526 854h1v1h-1zM527 854h1v1h-1zM528 854h1v1h-1zM529 854h1v1h-1zM530 854h1v1h-1zM531 854h1v1h-1zM532 854h1v1h-1zM533 854h1v1h-1zM534 853h1v1h-1zM535 853h1v1h-1zM536 853h1v1h-1zM537 853h1v1h-1zM538 853h1v1h-1zM539 853h1v1h-1zM540 852h1v1h-1zM541 852h1v1h-1zM542 852h1v1h-1zM543 852h1v1h-1zM544 852h1v1h-1zM545 852h1v1h-1zM546 851h1v1h-1zM547 851h1v1h-1zM548 851h1v1h-1zM549 851h1v1h-1zM550 851h1v1h-1zM551 851h1v1h-1zM552 851h1v1h-1zM553 851h1v1h-1zM554 851h1v1h-1zM555 850h1v1h-1zM556 850h1v1h-1zM557 850h1v1h-1zM558 850h1v1h-1zM559 850h1v1h-1zM560 850h1v1h-1zM561 850h1v1h-1zM562 849h1v1h-1zM563 849h1v1h-1zM564 849h1v1h-1zM565 849h1v1h-1zM566 849h1v1h-1zM567 849h1v1h-1zM568 849h1v1h-1zM569 848h1v1h-1zM570 848h1v1h-1zM571 848h1v1h-1zM572 848h1v1h-1zM573 848h1v1h-1zM574 847h1v1h-1zM575 847h1v1h-1zM576 847h1v1h-1zM577 846h1v1h-1zM578 846h1v1h-1zM579 845h1v1h-1zM580 845h1v1h-1zM581 844h1v1h-1zM582 844h1v1h-1zM583 843h1v1h-1zM584 842h1v1h-1zM585 842h1v1h-1zM586 841h1v1h-1zM587 840h1v1h-1zM588 840h1v1h-1zM589 839h1v1h-1zM590 839h1v1h-1zM591 838h1v1h-1zM592 838h1v1h-1zM593 837h1v1h-1zM594 837h1v1h-1zM595 837h1v1h-1zM596 837h1v1h-1zM597 836h1v1h-1zM598 836h1v1h-1zM599 836h1v1h-1zM600 836h1v1h-1zM601 835h1v1h-1zM602 835h1v1h-1zM603 835h1v1h-1zM604 835h1v1h-1zM605 835h1v1h-1zM606 835h1v1h-1zM607 835h1v1h-1zM608 835h1v1h-1zM609 835h1v1h-1zM610 836h1v1h-1zM611 836h1v1h-1zM612 836h1v1h-1zM613 836h1v1h-1zM614 837h1v1h-1zM615 837h1v1h-1zM616 837h1v1h-1zM617 838h1v1h-1zM618 838h1v1h-1zM619 839h1v1h-1zM620 839h1v1h-1zM621 840h1v1h-1zM622 840h1v1h-1zM623 841h1v1h-1zM624 841h1v1h-1zM625 842h1v1h-1zM626 843h1v1h-1zM627 843h1v1h-1zM628 844h1v1h-1zM629 844h1v1h-1zM630 845h1v1h-1zM631 846h1v1h-1zM632 846h1v1h-1zM633 847h1v1h-1zM634 848h1v1h-1zM635 848h1v1h-1zM636 849h1v1h-1zM637 849h1v1h-1zM638 849h1v1h-1zM639 850h1v1h-1zM640 850h1v1h-1zM641 850h1v1h-1zM642 851h1v1h-1zM643 851h1v1h-1zM644 851h1v1h-1zM645 851h1v1h-1zM646 851h1v1h-1zM647 850h1v1h-1zM648 850h1v1h-1zM649 850h1v1h-1zM650 850h1v1h-1zM651 850h1v1h-1zM652 849h1v1h-1zM653 849h1v1h-1zM654 849h1v1h-1zM655 849h1v1h-1zM656 848h1v1h-1zM657 848h1v1h-1zM658 848h1v1h-1zM659 848h1v1h-1zM660 848h1v1h-1zM661 848h1v1h-1zM662 847h1v1h-1zM663 847h1v1h-1zM664 847h1v1h-1zM665 847h1v1h-1zM666 846h1v1h-1zM667 846h1v1h-1zM668 846h1v1h-1zM669 845h1v1h-1zM670 845h1v1h-1zM671 844h1v1h-1zM672 844h1v1h-1zM673 843h1v1h-1zM674 843h1v1h-1zM675 842h1v1h-1zM676 842h1v1h-1zM677 841h1v1h-1zM678 841h1v1h-1zM679 841h1v1h-1zM680 840h1v1h-1zM681 840h1v1h-1zM682 840h1v1h-1zM683 840h1v1h-1zM684 840h1v1h-1zM685 840h1v1h-1zM686 840h1v1h-1zM687 840h1v1h-1zM688 840h1v1h-1zM689 840h1v1h-1zM690 840h1v1h-1zM691 840h1v1h-1zM692 840h1v1h-1zM693 841h1v1h-1zM694 841h1v1h-1zM695 841h1v1h-1zM696 841h1v1h-1zM697 841h1v1h-1zM698 841h1v1h-1zM699 841h1v1h-1zM700 842h1v1h-1zM701 842h1v1h-1zM702 842h1v1h-1zM703 842h1v1h-1zM704 842h1v1h-1zM705 842h1v1h-1zM706 842h1v1h-1zM707 842h1v1h-1zM708 843h1v1h-1zM709 843h1v1h-1zM710 843h1v1h-1zM711 843h1v1h-1zM712 843h1v1h-1zM713 844h1v1h-1zM714 844h1v1h-1zM715 844h1v1h-1zM716 844h1v1h-1zM717 845h1v1h-1zM718 845h1v1h-1zM719 845h1v1h-1zM720 845h1v1h-1z" fill="#1010b0" shape-rendering="crispEdges"/>
<path d="M90 796h1v1h-1zM91 794h1v2h-1zM92 793h1v1h-1zM93 792h1v1h-1zM94 791h1v1h-1zM95 789h1v2h-1zM96 788h1v1h-1zM97 787h1v1h-1zM98 786h1v1h-1zM99 785h1v1h-1zM100 784h1v1h-1zM101 783h1v1h-1zM102 782h1v1h-1zM103 781h1v1h-1zM104 778h1v3h-1zM105 775h1v3h-1zM106 772h1v3h-1zM107 768h1v4h-1zM108 765h1v3h-1zM109 762h1v3h-1zM110 759h1v3h-1zM111 758h1v1h-1zM112 756h1v2h-1zM113 755h1v1h-1zM114 754h1v1h-1zM115 752h1v2h-1zM116 751h1v1h-1zM117 749h1v2h-1zM118 746h1v3h-1zM119 744h1v2h-1zM120 741h1v3h-1zM121 738h1v3h-1zM122 735h1v3h-1zM123 732h1v3h-1zM124 730h1v2h-1zM125 729h1v1h-1zM126 729h1v1h-1zM127 729h1v1h-1zM128 729h1v1h-1zM129 729h1v1h-1zM130 728h1v1h-1zM131 728h1v1h-1zM132 728h1v3h-1zM133 731h1v2h-1zM134 733h1v3h-1zM135 736h1v2h-1zM136 738h1v3h-1zM137 741h1v2h-1zM138 743h1v3h-1zM139 746h1v1h-1zM140 747h1v1h-1zM141 748h1v1h-1zM142 748h1v1h-1zM143 749h1v1h-1zM144 750h1v1h-1zM145 751h1v1h-1zM146 752h1v1h-1zM147 753h1v2h-1zM148 755h1v1h-1zM149 756h1v2h-1zM150 758h1v2h-1zM151 760h1v1h-1zM152 761h1v2h-1zM153 763h1v1h-1zM154 764h1v1h-1zM155 765h1v1h-1zM156 766h1v1h-1zM157 767h1v1h-1zM158 768h1v1h-1zM159 769h1v1h-1zM160 770h1v1h-1zM161 771h1v2h-1zM162 773h1v1h-1zM163 774h1v2h-1zM164 776h1v2h-1zM165 778h1v1h-1zM166 779h1v2h-1zM167 781h1v2h-1zM168 783h1v2h-1zM169 785h1v2h-1zM170 787h1v2h-1zM171 789h1v2h-1zM172 791h1v2h-1zM173 793h1v2h-1zM174 795h1v3h-1zM175 798h1v2h-1zM176 800h1v3h-1zM177 803h1v2h-1zM178 805h1v2h-1zM179 807h1v3h-1zM180 810h1v2h-1zM181 812h1v2h-1zM182 814h1v2h-1zM183 816h1v3h-1zM184 819h1v2h-1zM185 821h1v2h-1zM186 823h1v2h-1zM187 825h1v2h-1zM188 827h1v1h-1zM189 826h1v1h-1zM190 825h1v1h-1zM191 824h1v1h-1zM192 824h1v1h-1zM193 823h1v1h-1zM194 822h1v1h-1zM195 819h1v3h-1zM196 817h1v2h-1zM197 814h1v3h-1zM198 811h1v3h-1zM199 808h1v3h-1zM200 805h1v3h-1zM201 803h1v2h-1zM202 802h1v1h-1zM203 802h1v1h-1zM204 802h1v1h-1zM205 802h1v1h-1zM206 802h1v1h-1zM207 802h1v1h-1zM208 802h1v1h-1zM209 802h1v1h-1zM210 803h1v2h-1zM211 805h1v1h-1zM212 806h1v2h-1zM213 808h1v1h-1zM214 809h1v2h-1zM215 811h1v1h-1zM216 812h1v1h-1zM217 813h1v1h-1zM218 814h1v1h-1zM219 815h1v1h-1zM220 815h1v1h-1zM221 816h1v1h-1zM222 817h1v1h-1zM223 818h1v3h-1zM224 821h1v2h-1zM225 823h1v3h-1zM226 826h1v3h-1zM227 829h1v3h-1zM228 832h1v2h-1zM229 834h1v3h-1zM230 837h1v2h-1zM231 839h1v1h-1zM232 840h1v2h-1zM233 842h1v1h-1zM234 843h1v2h-1zM235 845h1v2h-1zM236 847h1v1h-1zM237 848h1v3h-1zM238 851h1v2h-1zM239 853h1v3h-1zM240 856h1v3h-1zM241 859h1v2h-1zM242 861h1v3h-1zM243 864h1v2h-1zM244 866h1v1h-1zM245 867h1v1h-1zM246 867h1v1h-1zM247 868h1v1h-1zM248 868h1v1h-1zM249 869h1v1h-1zM250 869h1v1h-1zM251 870h1v1h-1zM252 870h1v1h-1zM253 871h1v1h-1zM254 872h1v1h-1zM255 873h1v1h-1zM256 874h1v1h-1zM257 875h1v1h-1zM258 876h1v1h-1zM259 876h1v1h-1zM260 875h1v1h-1zM261 875h1v1h-1zM262 875h1v1h-1zM263 875h1v1h-1zM264 875h1v1h-1zM265 874h1v2h-1zM266 872h1v2h-1zM267 870h1v2h-1zM268 869h1v1h-1zM269 867h1v2h-1zM270 865h1v2h-1zM271 864h1v1h-1zM272 862h1v2h-1zM273 860h1v2h-1zM274 859h1v1h-1zM275 857h1v2h-1zM276 855h1v2h-1zM277 853h1v2h-1zM278 851h1v2h-1zM279 850h1v1h-1zM280 850h1v1h-1zM281 849h1v1h-1zM282 849h1v1h-1zM283 848h1v1h-1zM284 848h1v1h-1zM285 847h1v1h-1zM286 846h1v2h-1zM287 843h1v3h-1zM288 841h1v2h-1zM289 839h1v2h-1zM290 837h1v2h-1zM291 835h1v2h-1zM292 833h1v2h-1zM293 832h1v1h-1zM294 831h1v1h-1zM295 830h1v1h-1zM296 829h1v1h-1zM297 828h1v1h-1zM298 827h1v1h-1zM299 826h1v1h-1zM300 825h1v1h-1zM301 826h1v1h-1zM302 826h1v1h-1zM303 826h1v1h-1zM304 827h1v1h-1zM305 827h1v1h-1zM306 828h1v1h-1zM307 828h1v1h-1zM308 829h1v1h-1zM309 830h1v1h-1zM310 830h1v1h-1zM311 831h1v1h-1zM312 832h1v1h-1zM313 833h1v1h-1zM314 834h1v1h-1zM315 834h1v1h-1zM316 833h1v1h-1zM317 833h1v1h-1zM318 833h1v1h-1zM319 833h1v1h-1zM320 833h1v1h-1zM321 833h1v1h-1zM322 833h1v1h-1zM323 834h1v1h-1zM324 834h1v1h-1zM325 835h1v1h-1zM326 835h1v1h-1zM327 836h1v1h-1zM328 836h1v2h-1zM329 834h1v2h-1zM330 832h1v2h-1zM331 831h1v1h-1zM332 829h1v2h-1zM333 827h1v2h-1zM334 826h1v1h-1zM335 825h1v1h-1zM336 824h1v1h-1zM337 824h1v1h-1zM338 823h1v1h-1zM339 823h1v1h-1zM340 822h1v1h-1zM341 822h1v1h-1zM342 821h1v1h-1zM343 821h1v1h-1zM344 820h1v1h-1zM345 820h1v1h-1zM346 819h1v1h-1zM347 819h1v1h-1zM348 818h1v1h-1zM349 818h1v1h-1zM350 818h1v1h-1zM351 818h1v1h-1zM352 818h1v1h-1zM353 819h1v1h-1zM354 819h1v1h-1zM355 819h1v1h-1zM356 819h1v1h-1zM357 820h1v2h-1zM358 822h1v1h-1zM359 823h1v1h-1zM360 824h1v1h-1zM361 825h1v2h-1zM362 827h1v1h-1zM363 828h1v1h-1zM364 829h1v1h-1zM365 829h1v1h-1zM366 830h1v1h-1zM367 831h1v1h-1zM368 831h1v1h-1zM369 832h1v1h-1zM370 832h1v1h-1zM371 833h1v1h-1zM372 834h1v1h-1zM373 834h1v1h-1zM374 835h1v1h-1zM375 835h1v1h-1zM376 836h1v1h-1zM377 836h1v1h-1zM378 836h1v1h-1zM379 835h1v1h-1zM380 835h1v1h-1zM381 834h1v1h-1zM382 834h1v1h-1zM383 833h1v1h-1zM384 832h1v1h-1zM385 832h1v1h-1zM386 831h1v1h-1zM387 830h1v1h-1zM388 829h1v1h-1zM389 828h1v1h-1zM390 827h1v1h-1zM391 826h1v1h-1zM392 824h1v2h-1zM393 822h1v2h-1zM394 821h1v1h-1zM395 819h1v2h-1zM396 818h1v1h-1zM397 816h1v2h-1zM398 815h1v1h-1zM399 815h1v1h-1zM400 815h1v1h-1zM401 815h1v1h-1zM402 816h1v1h-1zM403 816h1v1h-1zM404 816h1v1h-1zM405 816h1v1h-1zM406 816h1v1h-1zM407 817h1v1h-1zM408 817h1v1h-1zM409 817h1v1h-1zM410 817h1v1h-1zM411 818h1v1h-1zM412 818h1v1h-1zM413 819h1v1h-1zM414 819h1v1h-1zM415 820h1v1h-1zM416 821h1v1h-1zM417 822h1v1h-1zM418 822h1v1h-1zM419 823h1v1h-1zM420 824h1v1h-1zM421 824h1v1h-1zM422 824h1v1h-1zM423 825h1v1h-1zM424 825h1v1h-1zM425 826h1v1h-1zM426 826h1v1h-1zM427 827h1v1h-1zM428 827h1v1h-1zM429 828h1v1h-1zM430 828h1v1h-1zM431 829h1v1h-1zM432 829h1v1h-1zM433 830h1v1h-1zM434 830h1v1h-1zM435 831h1v1h-1zM436 831h1v1h-1zM437 832h1v1h-1zM438 832h1v1h-1zM439 833h1v1h-1zM440 833h1v2h-1zM441 835h1v1h-1zM442 836h1v1h-1zM443 837h1v2h-1zM444 839h1v1h-1zM445 840h1v1h-1zM446 841h1v2h-1zM447 843h1v1h-1zM448 843h1v1h-1zM449 844h1v1h-1zM450 845h1v1h-1zM451 846h1v1h-1zM452 847h1v1h-1zM453 847h1v1h-1zM454 848h1v1h-1zM455 849h1v1h-1zM456 849h1v1h-1zM457 850h1v1h-1zM458 850h1v1h-1zM459 851h1v1h-1zM460 851h1v1h-1zM461 852h1v1h-1zM462 853h1v2h-1zM463 855h1v2h-1zM464 857h1v1h-1zM465 858h1v2h-1zM466 860h1v2h-1zM467 862h1v1h-1zM468 863h1v1h-1zM469 864h1v1h-1zM470 864h1v1h-1zM471 864h1v1h-1zM472 865h1v1h-1zM473 865h1v1h-1zM474 865h1v1h-1zM475 866h1v1h-1zM476 865h1v1h-1zM477 864h1v1h-1zM478 863h1v1h-1zM479 863h1v1h-1zM480 862h1v1h-1zM481 861h1v1h-1zM482 861h1v1h-1zM483 860h1v1h-1zM484 859h1v1h-1zM485 858h1v1h-1zM486 857h1v1h-1zM487 856h1v1h-1zM488 855h1v1h-1zM489 854h1v1h-1zM490 854h1v1h-1zM491 854h1v1h-1zM492 854h1v1h-1zM493 854h1v1h-1zM494 855h1v1h-1zM495 855h1v1h-1zM496 855h1v1h-1zM497 855h1v1h-1zM498 855h1v1h-1zM499 854h1v1h-1zM500 854h1v1h-1zM501 854h1v1h-1zM502 854h1v1h-1zM503 853h1v1h-1zM504 853h1v1h-1zM505 853h1v1h-1zM506 853h1v1h-1zM507 853h1v1h-1zM508 852h1v1h-1zM509 852h1v1h-1zM510 852h1v1h-1zM511 853h1v1h-1zM512 853h1v1h-1zM513 854h1v1h-1zM514 854h1v1h-1zM515 855h1v1h-1zM516 855h1v1h-1zM517 856h1v1h-1zM518 856h1v1h-1zM519 856h1v1h-1zM520 856h1v1h-1zM521 856h1v1h-1zM522 856h1v1h-1zM523 857h1v1h-1zM524 857h1v1h-1zM525 857h1v1h-1zM526 856h1v1h-1zM527 856h1v1h-1zM528 856h1v1h-1zM529 856h1v1h-1zM530 856h1v1h-1zM531 856h1v1h-1zM532 855h1v1h-1zM533 854h1v1h-1zM534 853h1v1h-1zM535 852h1v1h-1zM536 851h1v1h-1zM537 850h1v1h-1zM538 849h1v1h-1zM539 849h1v1h-1zM540 848h1v1h-1zM541 848h1v1h-1zM542 848h1v1h-1zM543 848h1v1h-1zM544 847h1v1h-1zM545 847h1v1h-1zM546 847h1v1h-1zM547 847h1v1h-1zM548 847h1v1h-1zM549 847h1v1h-1zM550 848h1v1h-1zM551 848h1v1h-1zM552 848h1v1h-1zM553 847h1v1h-1zM554 847h1v1h-1zM555 847h1v1h-1zM556 846h1v1h-1zM557 846h1v1h-1zM558 845h1v1h-1zM559 845h1v1h-1zM560 845h1v1h-1zM561 845h1v1h-1zM562 845h1v1h-1zM563 845h1v1h-1zM564 845h1v1h-1zM565 844h1v1h-1zM566 844h1v1h-1zM567 844h1v1h-1zM568 844h1v1h-1zM569 844h1v1h-1zM570 844h1v1h-1zM571 843h1v1h-1zM572 843h1v1h-1zM573 843h1v1h-1zM574 842h1v1h-1zM575 840h1v2h-1zM576 839h1v1h-1zM577 838h1v1h-1zM578 837h1v1h-1zM579 836h1v1h-1zM580 834h1v2h-1zM581 832h1v2h-1zM582 830h1v2h-1zM583 828h1v2h-1zM584 827h1v1h-1zM585 825h1v2h-1zM586 823h1v2h-1zM587 822h1v1h-1zM588 822h1v1h-1zM589 822h1v1h-1zM590 822h1v1h-1zM591 823h1v1h-1zM592 823h1v1h-1zM593 823h1v1h-1zM594 823h1v1h-1zM595 824h1v1h-1zM596 824h1v1h-1zM597 825h1v1h-1zM598 825h1v1h-1zM599 826h1v1h-1zM600 826h1v1h-1zM601 827h1v1h-1zM602 828h1v1h-1zM603 829h1v2h-1zM604 831h1v1h-1zM605 832h1v1h-1zM606 833h1v2h-1zM607 835h1v1h-1zM608 836h1v1h-1zM609 837h1v2h-1zM610 839h1v2h-1zM611 841h1v1h-1zM612 842h1v2h-1zM613 844h1v1h-1zM614 845h1v2h-1zM615 847h1v1h-1zM616 848h1v1h-1zM617 849h1v1h-1zM618 850h1v2h-1zM619 852h1v1h-1zM620 853h1v1h-1zM621 854h1v1h-1zM622 855h1v1h-1zM623 856h1v1h-1zM624 857h1v1h-1zM625 858h1v1h-1zM626 859h1v2h-1zM627 861h1v1h-1zM628 862h1v1h-1zM629 863h1v1h-1zM630 863h1v1h-1zM631 864h1v1h-1zM632 864h1v1h-1zM633 865h1v1h-1zM634 866h1v1h-1zM635 866h1v1h-1zM636 866h1v2h-1zM637 865h1v1h-1zM638 863h1v2h-1zM639 862h1v1h-1zM640 860h1v2h-1zM641 859h1v1h-1zM642 857h1v2h-1zM643 856h1v1h-1zM644 855h1v1h-1zM645 854h1v1h-1zM646 853h1v1h-1zM647 851h1v2h-1zM648 850h1v1h-1zM649 849h1v1h-1zM650 848h1v1h-1zM651 847h1v1h-1zM652 846h1v1h-1zM653 846h1v1h-1zM654 845h1v1h-1zM655 844h1v1h-1zM656 843h1v1h-1zM657 842h1v1h-1zM658 841h1v1h-1zM659 841h1v1h-1zM660 840h1v1h-1zM661 840h1v1h-1zM662 839h1v1h-1zM663 838h1v1h-1zM664 838h1v1h-1zM665 837h1v1h-1zM666 836h1v1h-1zM667 835h1v1h-1zM668 835h1v1h-1zM669 834h1v1h-1zM670 833h1v1h-1zM671 832h1v1h-1zM672 832h1v1h-1zM673 832h1v1h-1zM674 831h1v1h-1zM675 831h1v1h-1zM676 830h1v1h-1zM677 830h1v1h-1zM678 829h1v1h-1zM679 830h1v2h-1zM680 832h1v1h-1zM681 833h1v1h-1zM682 834h1v1h-1zM683 835h1v1h-1zM684 836h1v2h-1zM685 838h1v1h-1zM686 838h1v1h-1zM687 838h1v1h-1zM688 839h1v1h-1zM689 839h1v1h-1zM690 840h1v1h-1zM691 840h1v1h-1zM692 840h1v1h-1zM693 841h1v1h-1zM694 841h1v1h-1zM695 841h1v1h-1zM696 842h1v1h-1zM697 842h1v1h-1zM698 842h1v1h-1zM699 843h1v1h-1zM700 843h1v1h-1zM701 844h1v1h-1zM702 845h1v1h-1zM703 845h1v1h-1zM704 846h1v1h-1zM705 846h1v1h-1zM706 847h1v1h-1zM707 848h1v1h-1zM708 848h1v1h-1zM709 848h1v1h-1zM710 849h1v1h-1zM711 849h1v1h-1zM712 850h1v1h-1zM713 850h1v1h-1zM714 850h1v1h-1zM715 850h1v1h-1zM716 850h1v1h-1zM717 850h1v1h-1zM718 850h1v1h-1zM719 850h1v1h-1zM720 850h1v1h-1z" fill="#000" shape-rendering="crispEdges"/>
<text x="82.4" y="49.0" text-anchor="end" font-size="12" fill="#333" font-family="Liberation Sans, Arial, sans-serif">3615.41</text>
<text x="82.4" y="104.0" text-anchor="end" font-size="12" fill="#333" font-family="Liberation Sans, Arial, sans-serif">3509.48</text>
<text x="82.4" y="159.0" text-anchor="end" font-size="12" fill="#333" font-family="Liberation Sans, Arial, sans-serif">3403.55</text>
<text x="82.4" y="214.0" text-anchor="end" font-size="12" fill="#333" font-family="Liberation Sans, Arial, sans-serif">3297.62</text>
<text x="82.4" y="269.0" text-anchor="end" font-size="12" fill="#333" font-family="Liberation Sans, Arial, sans-serif">3191.68</text>
<text x="82.4" y="324.0" text-anchor="end" font-size="12" fill="#333" font-family="Liberation Sans, Arial, sans-serif">3085.75</text>
<text x="82.4" y="379.0" text-anchor="end" font-size="12" fill="#333" font-family="Liberation Sans, Arial, sans-serif">2979.82</text>
<text x="82.4" y="434.0" text-anchor="end" font-size="12" fill="#333" font-family="Liberation Sans, Arial, sans-serif">2873.89</text>
<text x="82.4" y="489.0" text-anchor="end" font-size="12" fill="#333" font-family="Liberation Sans, Arial, sans-serif">2767.96</text>
<text x="82.4" y="544.0" text-anchor="end" font-size="12" fill="#333" font-family="Liberation Sans, Arial, sans-serif">2662.03</text>
<text x="82.4" y="599.0" text-anchor="end" font-size="12" fill="#333" font-family="Liberation Sans, Arial, sans-serif">2556.10</text>
<text x="82.4" y="654.0" text-anchor="end" font-size="12" fill="#333" font-family="Liberation Sans, Arial, sans-serif">2450.17</text>
<text x="82.4" y="731.0" text-anchor="end" font-size="12" fill="#333" font-family="Liberation Sans, Arial, sans-serif">56.33</text>
<text x="82.4" y="755.0" text-anchor="end" font-size="12" fill="#333" font-family="Liberation Sans, Arial, sans-serif">44.64</text>
<text x="82.4" y="780.0" text-anchor="end" font-size="12" fill="#333" font-family="Liberation Sans, Arial, sans-serif">32.94</text>
<text x="82.4" y="805.0" text-anchor="end" font-size="12" fill="#333" font-family="Liberation Sans, Arial, sans-serif">21.25</text>
<text x="82.4" y="830.0" text-anchor="end" font-size="12" fill="#333" font-family="Liberation Sans, Arial, sans-serif">9.56</text>
<text x="82.4" y="854.0" text-anchor="end" font-size="12" fill="#333" font-family="Liberation Sans, Arial, sans-serif">-2.13</text>
<text x="82.4" y="879.0" text-anchor="end" font-size="12" fill="#333" font-family="Liberation Sans, Arial, sans-serif">-13.82</text>
<text x="82.4" y="904.0" text-anchor="end" font-size="12" fill="#333" font-family="Liberation Sans, Arial, sans-serif">-25.52</text>
<text x="137.2" y="103" font-size="12" font-weight="bold" fill="#e0423a" font-family="Liberation Sans, Arial, sans-serif" textLength="44.4" lengthAdjust="spacingAndGlyphs">3499.83</text>
<text x="184" y="938.3" font-size="12" font-weight="bold" fill="#222" font-family="Liberation Sans, Arial, sans-serif">2025/05</text>
<text x="337.5" y="938.3" font-size="12" font-weight="bold" fill="#222" font-family="Liberation Sans, Arial, sans-serif">2025/06</text>
<text x="485" y="938.3" font-size="12" font-weight="bold" fill="#222" font-family="Liberation Sans, Arial, sans-serif">2025/07</text>
<text x="645.5" y="938.3" font-size="12" font-weight="bold" fill="#222" font-family="Liberation Sans, Arial, sans-serif">2025/08</text>
<text x="88.5" y="37.5" font-size="12" font-weight="500" fill="#000" font-family="Liberation Sans, Noto Sans CJK SC, sans-serif" textLength="46" lengthAdjust="spacingAndGlyphs">现货黄金</text>
<text x="136.3" y="37.5" font-size="12" fill="#ff7a00" font-family="Liberation Sans, Noto Sans CJK SC, sans-serif" textLength="48" lengthAdjust="spacingAndGlyphs">【日线】</text>
<g stroke="#ff8a1a" fill="none" stroke-width="0.9"><circle cx="188.6" cy="35.3" r="4.3"/><line x1="184.5" y1="35.3" x2="193" y2="35.3"/><line x1="188.8" y1="31" x2="188.8" y2="39.6"/></g>
<g><rect x="201.5" y="25.5" width="11" height="12" fill="#fff" stroke="#1a1aa0" stroke-width="1.4"/><polyline points="202.5,32 205,28.5 207.5,32 210,28 212,30" fill="none" stroke="#e02020" stroke-width="1.3"/><polyline points="202.5,35.5 205,32.5 207.5,35.5 210,32 212,34" fill="none" stroke="#2020c0" stroke-width="1"/><line x1="213" y1="26" x2="213" y2="38" stroke="#1a1a80" stroke-width="1"/></g>
<text x="216.3" y="37.3" font-size="12.5" fill="#000" font-family="Liberation Sans, Arial, sans-serif" textLength="92.5" lengthAdjust="spacingAndGlyphs">MA1(50,0,200,0)</text>
<text x="313.8" y="37.3" font-size="12.5" fill="#000" font-family="Liberation Sans, Arial, sans-serif" textLength="80.7" lengthAdjust="spacingAndGlyphs">MA50:3349.46</text>
<text x="403.8" y="37.5" font-size="12.5" fill="#00008b" font-family="Liberation Sans, Arial, sans-serif" textLength="73.7" lengthAdjust="spacingAndGlyphs">MA0:3347.27</text>
<text x="486.3" y="37.5" font-size="12.5" fill="#ff00ff" font-family="Liberation Sans, Arial, sans-serif" textLength="88" lengthAdjust="spacingAndGlyphs">MA200:3040.47</text>
<text x="583.8" y="37.5" font-size="12.5" fill="#ff7a00" font-family="Liberation Sans, Arial, sans-serif" textLength="73.4" lengthAdjust="spacingAndGlyphs">MA0:3347.27</text>
<text x="88.8" y="720" font-size="12.5" fill="#000" font-family="Liberation Sans, Arial, sans-serif" textLength="138.7" lengthAdjust="spacingAndGlyphs">MACD(13,8,9) DIFF:-1.63</text>
<text x="236.9" y="720" font-size="12.5" fill="#00008b" font-family="Liberation Sans, Arial, sans-serif" textLength="49.5" lengthAdjust="spacingAndGlyphs">DEA:0.86</text>
<text x="295.7" y="720" font-size="12.5" fill="#ff00ff" font-family="Liberation Sans, Arial, sans-serif" textLength="67.5" lengthAdjust="spacingAndGlyphs">MACD:-4.98</text>
<g><circle cx="25" cy="712.8" r="3.5" fill="none" stroke="#000" stroke-width="1"/><circle cx="25" cy="712.8" r="1.9" fill="#f00"/>
<line x1="30.3" y1="712.8" x2="32.6" y2="712.8" stroke="#f00" stroke-width="1"/>
<line x1="28.7" y1="716.5" x2="30.4" y2="718.2" stroke="#f00" stroke-width="1"/>
<line x1="25.0" y1="718.1" x2="25.0" y2="720.4" stroke="#f00" stroke-width="1"/>
<line x1="21.3" y1="716.5" x2="19.6" y2="718.2" stroke="#f00" stroke-width="1"/>
<line x1="19.7" y1="712.8" x2="17.4" y2="712.8" stroke="#f00" stroke-width="1"/>
<line x1="21.3" y1="709.1" x2="19.6" y2="707.4" stroke="#f00" stroke-width="1"/>
<line x1="25.0" y1="707.5" x2="25.0" y2="705.2" stroke="#f00" stroke-width="1"/>
<line x1="28.7" y1="709.1" x2="30.4" y2="707.4" stroke="#f00" stroke-width="1"/>
</g>
<text x="719" y="954.3" font-size="31" fill="#b98a66" opacity=".6" font-family="Liberation Sans, Arial, sans-serif" textLength="98.5" lengthAdjust="spacing" transform="translate(1.2,1.2)">FX678</text>
<text x="719" y="954.3" font-size="31" fill="#dce8f7" font-family="Liberation Sans, Arial, sans-serif" textLength="98.5" lengthAdjust="spacing">FX678</text>
</svg>
<div id="tb">
<div class="b " style="left:0px;width:66px"><svg width="67" height="23" viewBox="0 0 67 23" style="left:0;top:0"><path d="M15.3,4.2 L10,9.05 L15.3,13.9 L15.3,11.3 C19,11.3 21.5,12.5 23.6,15.9 C25,10 21,6.3 15.3,6.3 Z" fill="#3a404d"/></svg><span style="position:absolute;left:26px">返回</span></div>
<div class="b " style="left:67px;width:69px"><svg width="70" height="23" viewBox="67 0 70 23" style="left:-1px;top:0"><path d="M87.6,4 L81,10.3 L83.1,10.3 L83.1,16.4 L86.5,16.4 L86.5,12.7 L88.7,12.7 L88.7,16.4 L92,16.4 L92,10.3 L94.2,10.3 Z" fill="#3a404d"/></svg><span style="position:absolute;left:29.5px">首页</span></div>
<div class="b " style="left:137px;width:67px"><svg width="22" height="18" viewBox="0 0 22 18" style="left:24px;top:1.3px"><path d="M15.6 9 A6.3 6.3 0 1 0 12.6 14.4" fill="none" stroke="#3a404d" stroke-width="1.8"/><path d="M12.3 8 L18.6 8 L15.6 12.2 Z" fill="#3a404d"/></svg></div>
<div class="b " style="left:205px;width:46px"><svg width="20" height="16" viewBox="0 0 20 16" style="left:13px;top:2.5px"><path d="M0.3 15 L0.3 11.2 L3.3 8.8 L3.3 15Z M5 15 L5 7.6 L8.2 6.6 L8.2 15Z M10 15 L10 9.6 L13.2 7.2 L13.2 15Z M15 15 L15 5.8 L18.3 3 L18.3 15Z" fill="#3a404d"/><path d="M0.6 9.3 L6.8 3.6 L11.2 6.6 L18 0.8" fill="none" stroke="#3a404d" stroke-width="1.5"/></svg></div>
<div class="b " style="left:252px;width:46px"><svg width="22" height="16" viewBox="0 0 22 16" style="left:12px;top:2.5px"><g fill="#3a404d"><rect x="0.8" y="5" width="3" height="5.5" rx="1"/><rect x="6" y="2.8" width="3" height="8.2" rx="1"/><rect x="7" y="0.5" width="1.2" height="14.5"/><rect x="11.6" y="7" width="3" height="5" rx="1"/><rect x="12.5" y="4.5" width="1.2" height="10"/><rect x="16.8" y="5.5" width="3" height="6" rx="1"/><rect x="17.7" y="2.5" width="1.2" height="12"/></g></svg></div>
<div class="b " style="left:299px;width:46px"><span style="font-size:16px;position:relative;top:0px">tick</span></div>
<div class="b " style="left:346px;width:46px"><span class="n">5</span>日</div>
<div class="b n" style="left:393px;width:27px">5</div>
<div class="b n" style="left:421px;width:27px">15</div>
<div class="b n" style="left:449px;width:27px">30</div>
<div class="b n" style="left:477px;width:27px">60</div>
<div class="b n" style="left:505px;width:27px">2H</div>
<div class="b n" style="left:533px;width:27px">4H</div>
<div class="b " style="left:561px;width:27px">日</div>
<div class="b " style="left:589px;width:27px">周</div>
<div class="b " style="left:617px;width:27px">月</div>
<div class="b " style="left:645px;width:26px">年</div>
<div class="b " style="left:672px;width:71px"><svg width="14" height="13" viewBox="0 0 14 13" style="left:14.5px;top:4px"><g fill="#3a404d"><rect x="0" y="0.3" width="13.8" height="2.2" rx=".6"/><rect x="0" y="5" width="13.8" height="2.2" rx=".6"/><rect x="0" y="9.8" width="13.8" height="2.2" rx=".6"/></g></svg><span style="position:absolute;left:31.5px">更多</span></div>
<div class="b " style="left:744px;width:27px"><span style="font-family:'Liberation Serif',serif;font-style:italic;font-size:16px;position:absolute;left:6.2px;top:-1.8px;-webkit-text-stroke:0.8px #3a404d">f</span><span style="font-weight:bold;font-size:13px;position:absolute;left:12.8px;top:1.6px">x</span></div>
<div class="b " style="left:772px;width:45px"><svg width="20" height="18" viewBox="0 0 20 18" style="left:13.5px;top:1.5px"><circle cx="8" cy="8.2" r="6.4" fill="none" stroke="#3a404d" stroke-width="1.05"/><line x1="4.8" y1="8.2" x2="11.2" y2="8.2" stroke="#3a404d" stroke-width="1.15"/><line x1="12.6" y1="12.8" x2="16" y2="16.2" stroke="#3a404d" stroke-width="1.5"/></svg></div>
<div class="b " style="left:818px;width:47px"><svg width="20" height="18" viewBox="0 0 20 18" style="left:15.5px;top:1.5px"><circle cx="8" cy="8.2" r="6.4" fill="none" stroke="#3a404d" stroke-width="1.05"/><line x1="4.8" y1="8.2" x2="11.2" y2="8.2" stroke="#3a404d" stroke-width="1.15"/><line x1="8" y1="5" x2="8" y2="11.4" stroke="#3a404d" stroke-width="1.15"/><line x1="12.6" y1="12.8" x2="16" y2="16.2" stroke="#3a404d" stroke-width="1.5"/></svg></div>
</div>
<div id="sb">
<div style="height:51px;padding-top:5px"><span>分</span><span>时</span><span>图</span></div>
<div class="on" style="height:46px;padding-top:3px"><span style="font-family:'Liberation Serif',serif;font-size:11px">K</span><span>线</span><span>图</span></div>
<div style="height:53px;padding-top:6.5px"><span>闪</span><span>电</span><span>图</span></div>
<div style="height:63px;padding-top:6px;line-height:13.7px;border-bottom:none"><span>合</span><span>约</span><span>资</span><span>料</span></div>
</div>
<div style="position:absolute;left:16px;top:926px;width:70px;height:18px;border:1px solid #d3dbe8;border-top:none;box-sizing:border-box;color:#ff7a00;font-weight:bold;font-size:13px;line-height:18px;padding-left:13px">日线 <span style="font-size:13px;position:relative;top:0px;left:-1.5px">▲</span></div>
<div class="tabs">
<div style="left:0px;width:39px;background:#ff6600;color:#fff;border-color:#ff6600;font-size:13px;line-height:14px;font-family:'Liberation Sans','Noto Sans CJK SC',sans-serif">指标</div>
<div style="left:39px;width:40px;line-height:16px;font-size:13px">模板</div>
<div style="left:79px;width:58px;color:#ff7200;font-family:'Liberation Mono','Noto Sans CJK SC',monospace"><span>VIP指标</span></div>
<div style="left:137px;width:29px;"><span>MA</span></div>
<div style="left:166px;width:40px;"><span>MACD</span></div>
<div style="left:206px;width:40px;"><span>BOLL</span></div>
<div style="left:246px;width:34px;"><span>VOL</span></div>
<div style="left:280px;width:40px;"><span>BIAS</span></div>
<div style="left:320px;width:34px;"><span>CCI</span></div>
<div style="left:354px;width:33px;"><span>KDJ</span></div>
<div style="left:387px;width:40px;"><span>LW&amp;</span></div>
<div style="left:427px;width:34px;"><span>RSI</span></div>
<div style="left:461px;width:28px;"><span>CR</span></div>
<div style="left:489px;width:34px;"><span>PSY</span></div>
<div style="left:523px;width:41px;line-height:16px;font-size:13px">设置</div>
</div>
<div style="position:absolute;left:0;top:960px;width:848px;height:2px;background:#d2d8e1"></div>
<div style="position:absolute;left:0;top:970px;width:848px;height:1px;background:#d0d7e0"></div>
<div style="position:absolute;left:0;top:971px;width:42px;height:10px;border-right:1px solid #d0d7e0;font-size:12px;line-height:18px;text-align:center;color:#222;font-family:'Noto Serif CJK SC',serif">资讯</div>
<div style="position:absolute;left:739px;top:964px;width:109px;height:6px;background:#b4b4b4"></div>
<svg width="26" height="6" style="position:absolute;left:816px;top:964px"><path d="M0 6 L13 0 L26 6Z" fill="#555"/></svg>
</body></html>
